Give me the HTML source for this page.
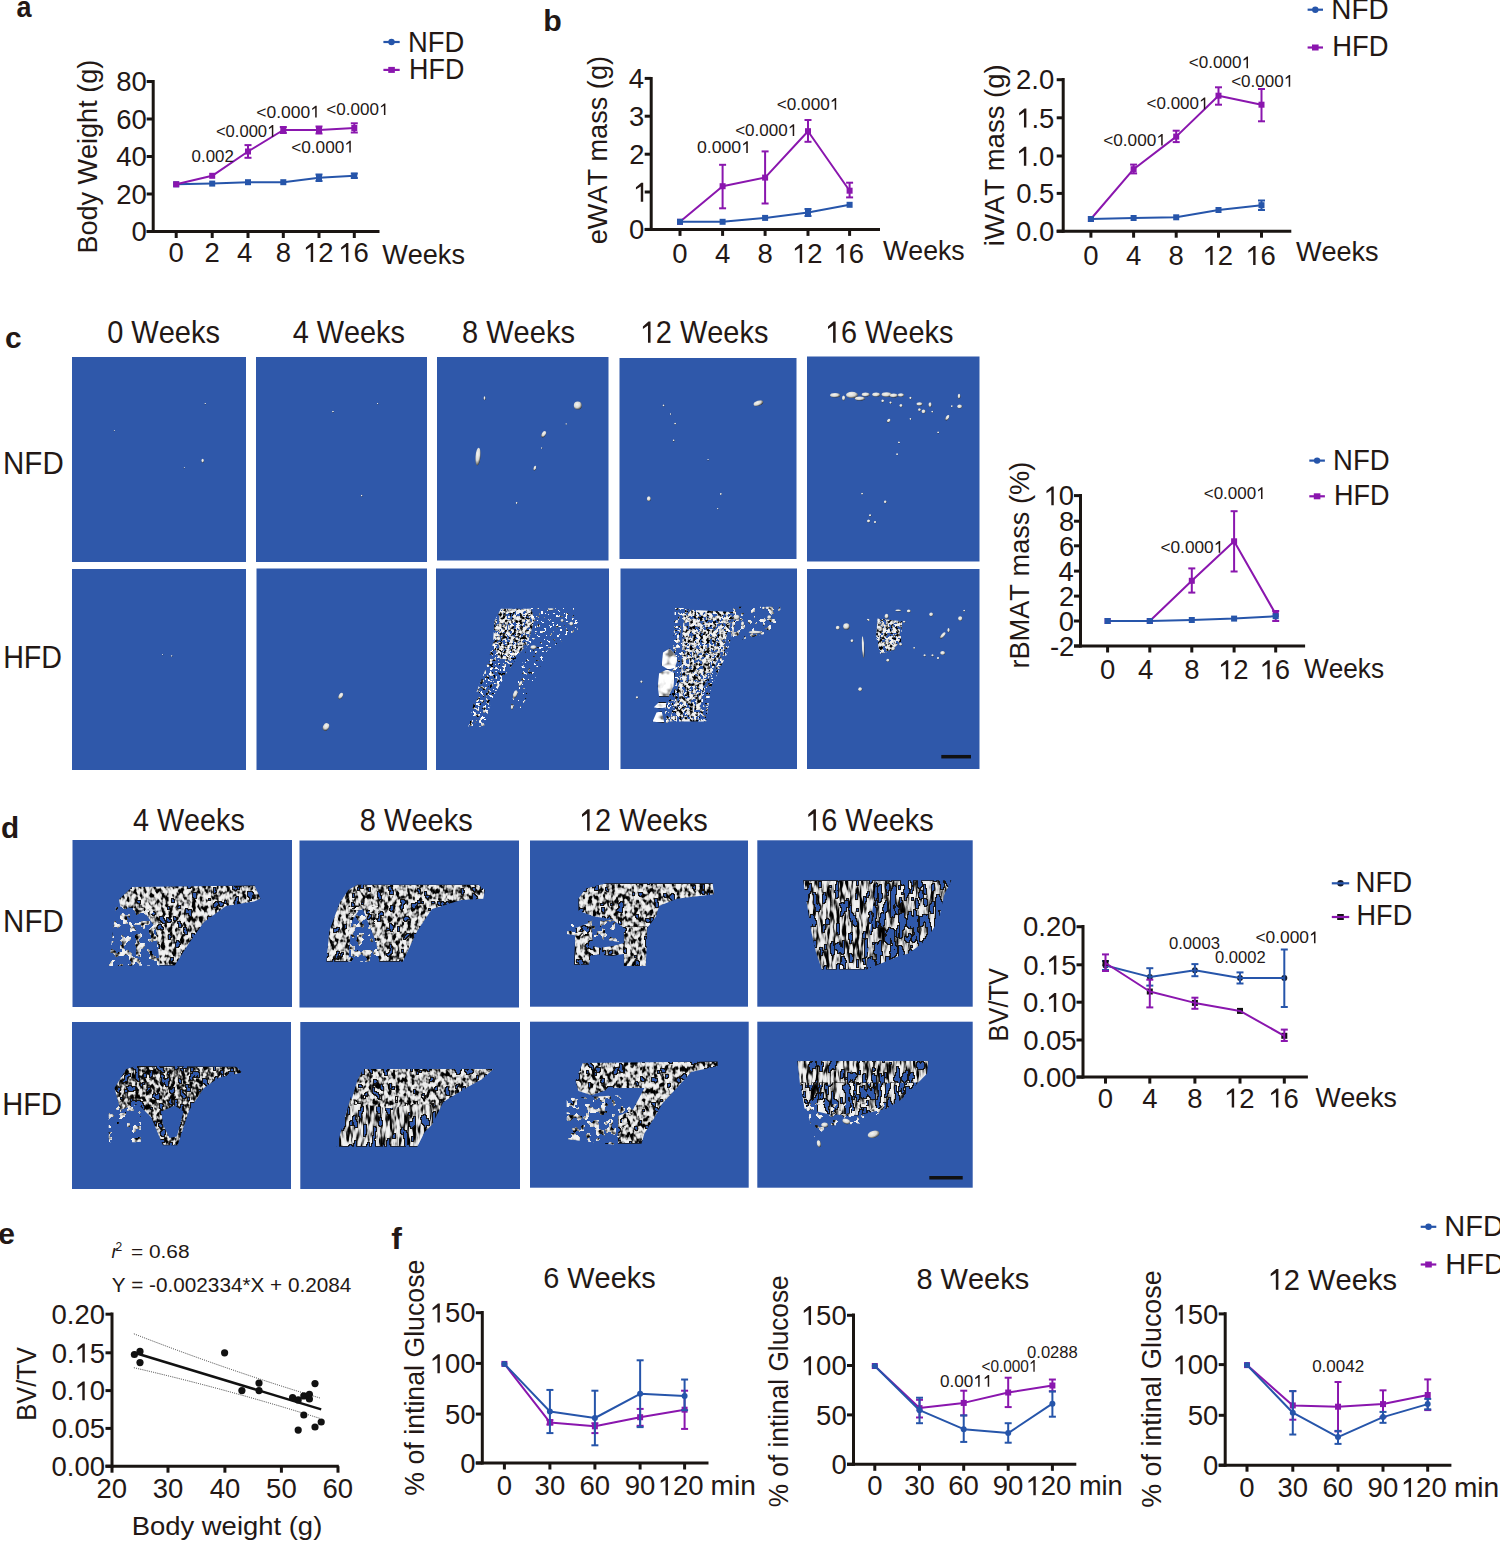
<!DOCTYPE html>
<html><head><meta charset="utf-8"><title>Figure</title><style>
html,body{margin:0;padding:0;background:#fff;overflow:hidden;width:1500px;height:1541px;}
svg{display:block;font-family:"Liberation Sans",sans-serif;font-kerning:none;}
</style></head><body>
<svg width="1500" height="1541" viewBox="0 0 1500 1541">
<rect width="1500" height="1541" fill="#fff"/>
<text transform="translate(16.61,17.40) scale(0.9313,1)" font-size="29.00" font-weight="bold" fill="#231815">a</text>
<line x1="153.20" y1="80.00" x2="153.20" y2="233.00" stroke="#1a1512" stroke-width="3"/>
<line x1="146.70" y1="231.50" x2="379.50" y2="231.50" stroke="#1a1512" stroke-width="3"/>
<line x1="146.70" y1="81.50" x2="153.20" y2="81.50" stroke="#1a1512" stroke-width="3"/>
<line x1="146.70" y1="119.00" x2="153.20" y2="119.00" stroke="#1a1512" stroke-width="3"/>
<line x1="146.70" y1="156.50" x2="153.20" y2="156.50" stroke="#1a1512" stroke-width="3"/>
<line x1="146.70" y1="194.00" x2="153.20" y2="194.00" stroke="#1a1512" stroke-width="3"/>
<line x1="146.70" y1="231.50" x2="153.20" y2="231.50" stroke="#1a1512" stroke-width="3"/>
<line x1="176.20" y1="231.50" x2="176.20" y2="238.00" stroke="#1a1512" stroke-width="3"/>
<line x1="212.20" y1="231.50" x2="212.20" y2="238.00" stroke="#1a1512" stroke-width="3"/>
<line x1="248.00" y1="231.50" x2="248.00" y2="238.00" stroke="#1a1512" stroke-width="3"/>
<line x1="283.30" y1="231.50" x2="283.30" y2="238.00" stroke="#1a1512" stroke-width="3"/>
<line x1="319.00" y1="231.50" x2="319.00" y2="238.00" stroke="#1a1512" stroke-width="3"/>
<line x1="354.30" y1="231.50" x2="354.30" y2="238.00" stroke="#1a1512" stroke-width="3"/>
<text transform="translate(116.29,91.23) scale(1.0000,1)" font-size="27.50" fill="#231815">80</text>
<text transform="translate(116.29,128.74) scale(1.0000,1)" font-size="27.50" fill="#231815">60</text>
<text transform="translate(116.29,166.24) scale(1.0000,1)" font-size="27.50" fill="#231815">40</text>
<text transform="translate(116.29,203.74) scale(1.0000,1)" font-size="27.50" fill="#231815">20</text>
<text transform="translate(131.58,241.24) scale(1.0000,1)" font-size="27.50" fill="#231815">0</text>
<text transform="translate(168.55,262.00) scale(1.0000,1)" font-size="27.50" fill="#231815">0</text>
<text transform="translate(204.55,262.00) scale(1.0000,1)" font-size="27.50" fill="#231815">2</text>
<text transform="translate(236.94,262.00) scale(1.0000,1)" font-size="27.50" fill="#231815">4</text>
<text transform="translate(275.65,262.00) scale(1.0000,1)" font-size="27.50" fill="#231815">8</text>
<g transform="translate(302.90,262.00) scale(1.0000,1)" fill="#231815"><text font-size="27.50"> 2</text><polygon points="10.25,0.00 7.83,0.00 7.83,-15.24 2.99,-12.15 2.99,-14.50 8.33,-18.92 10.25,-18.92"/></g>
<g transform="translate(338.11,262.00) scale(1.0000,1)" fill="#231815"><text font-size="27.50"> 6</text><polygon points="10.25,0.00 7.83,0.00 7.83,-15.24 2.99,-12.15 2.99,-14.50 8.33,-18.92 10.25,-18.92"/></g>
<text transform="translate(382.18,263.60) scale(0.9506,1)" font-size="28.50" fill="#231815">Weeks</text>
<g transform="translate(96.60,253.62) rotate(-90) scale(0.9494,1)" fill="#231815"><text font-size="28.50">Body Weight (g)</text></g>
<circle cx="391.5" cy="42.0" r="3.2" fill="#2655AA"/>
<line x1="383.40" y1="42.00" x2="399.70" y2="42.00" stroke="#2655AA" stroke-width="2.2"/>
<rect x="388.25" y="66.90" width="6.60" height="6.00" fill="#8A16AE" />
<line x1="383.40" y1="69.90" x2="399.70" y2="69.90" stroke="#8A16AE" stroke-width="2.2"/>
<text transform="translate(408.05,52.00) scale(0.9439,1)" font-size="29.00" fill="#231815">NFD</text>
<text transform="translate(409.10,79.40) scale(0.9260,1)" font-size="29.00" fill="#231815">HFD</text>
<polyline points="176.2,184.3 212.2,183.6 248.0,182.2 283.3,182.2 319.0,177.8 354.3,175.8" fill="none" stroke="#2655AA" stroke-width="2" stroke-linejoin="round"/>
<line x1="319.00" y1="174.50" x2="319.00" y2="181.00" stroke="#2655AA" stroke-width="2"/>
<line x1="315.50" y1="174.50" x2="322.50" y2="174.50" stroke="#2655AA" stroke-width="2"/>
<line x1="315.50" y1="181.00" x2="322.50" y2="181.00" stroke="#2655AA" stroke-width="2"/>
<line x1="354.30" y1="173.50" x2="354.30" y2="178.00" stroke="#2655AA" stroke-width="2"/>
<line x1="350.80" y1="173.50" x2="357.80" y2="173.50" stroke="#2655AA" stroke-width="2"/>
<line x1="350.80" y1="178.00" x2="357.80" y2="178.00" stroke="#2655AA" stroke-width="2"/>
<rect x="173.20" y="181.30" width="6.00" height="6.00" fill="#2655AA" />
<rect x="209.20" y="180.60" width="6.00" height="6.00" fill="#2655AA" />
<rect x="245.00" y="179.20" width="6.00" height="6.00" fill="#2655AA" />
<rect x="280.30" y="179.20" width="6.00" height="6.00" fill="#2655AA" />
<rect x="316.00" y="174.80" width="6.00" height="6.00" fill="#2655AA" />
<rect x="351.30" y="172.80" width="6.00" height="6.00" fill="#2655AA" />
<polyline points="176.2,184.3 212.2,175.8 248.0,151.5 283.3,130.0 319.0,130.0 354.3,128.0" fill="none" stroke="#8A16AE" stroke-width="2" stroke-linejoin="round"/>
<line x1="248.00" y1="145.10" x2="248.00" y2="157.80" stroke="#8A16AE" stroke-width="2"/>
<line x1="244.50" y1="145.10" x2="251.50" y2="145.10" stroke="#8A16AE" stroke-width="2"/>
<line x1="244.50" y1="157.80" x2="251.50" y2="157.80" stroke="#8A16AE" stroke-width="2"/>
<line x1="354.30" y1="123.30" x2="354.30" y2="132.50" stroke="#8A16AE" stroke-width="2"/>
<line x1="350.80" y1="123.30" x2="357.80" y2="123.30" stroke="#8A16AE" stroke-width="2"/>
<line x1="350.80" y1="132.50" x2="357.80" y2="132.50" stroke="#8A16AE" stroke-width="2"/>
<line x1="283.30" y1="127.00" x2="283.30" y2="133.00" stroke="#8A16AE" stroke-width="2"/>
<line x1="279.80" y1="127.00" x2="286.80" y2="127.00" stroke="#8A16AE" stroke-width="2"/>
<line x1="279.80" y1="133.00" x2="286.80" y2="133.00" stroke="#8A16AE" stroke-width="2"/>
<line x1="319.00" y1="126.50" x2="319.00" y2="133.50" stroke="#8A16AE" stroke-width="2"/>
<line x1="315.50" y1="126.50" x2="322.50" y2="126.50" stroke="#8A16AE" stroke-width="2"/>
<line x1="315.50" y1="133.50" x2="322.50" y2="133.50" stroke="#8A16AE" stroke-width="2"/>
<rect x="173.20" y="181.30" width="6.00" height="6.00" fill="#8A16AE" />
<rect x="209.20" y="172.80" width="6.00" height="6.00" fill="#8A16AE" />
<rect x="245.00" y="148.50" width="6.00" height="6.00" fill="#8A16AE" />
<rect x="280.30" y="127.00" width="6.00" height="6.00" fill="#8A16AE" />
<rect x="316.00" y="127.00" width="6.00" height="6.00" fill="#8A16AE" />
<rect x="351.30" y="125.00" width="6.00" height="6.00" fill="#8A16AE" />
<text transform="translate(191.54,161.50) scale(0.9946,1)" font-size="17.00" fill="#231815">0.002</text>
<g transform="translate(215.88,136.70) scale(0.9765,1)" fill="#231815"><text font-size="17.00">&lt;0.000 </text><polygon points="58.80,0.00 57.31,0.00 57.31,-9.42 54.32,-7.51 54.32,-8.96 57.62,-11.70 58.80,-11.70"/></g>
<g transform="translate(256.34,117.50) scale(1.0265,1)" fill="#231815"><text font-size="17.00">&lt;0.000 </text><polygon points="58.80,0.00 57.31,0.00 57.31,-9.42 54.32,-7.51 54.32,-8.96 57.62,-11.70 58.80,-11.70"/></g>
<g transform="translate(326.36,115.10) scale(1.0041,1)" fill="#231815"><text font-size="17.00">&lt;0.000 </text><polygon points="58.80,0.00 57.31,0.00 57.31,-9.42 54.32,-7.51 54.32,-8.96 57.62,-11.70 58.80,-11.70"/></g>
<g transform="translate(291.15,152.50) scale(1.0144,1)" fill="#231815"><text font-size="17.00">&lt;0.000 </text><polygon points="58.80,0.00 57.31,0.00 57.31,-9.42 54.32,-7.51 54.32,-8.96 57.62,-11.70 58.80,-11.70"/></g>
<text transform="translate(543.30,30.60) scale(1.0327,1)" font-size="29.40" font-weight="bold" fill="#231815">b</text>
<line x1="651.20" y1="77.00" x2="651.20" y2="230.90" stroke="#1a1512" stroke-width="3"/>
<line x1="644.70" y1="229.40" x2="880.00" y2="229.40" stroke="#1a1512" stroke-width="3"/>
<line x1="644.70" y1="78.40" x2="651.20" y2="78.40" stroke="#1a1512" stroke-width="3"/>
<line x1="644.70" y1="116.20" x2="651.20" y2="116.20" stroke="#1a1512" stroke-width="3"/>
<line x1="644.70" y1="154.20" x2="651.20" y2="154.20" stroke="#1a1512" stroke-width="3"/>
<line x1="644.70" y1="192.00" x2="651.20" y2="192.00" stroke="#1a1512" stroke-width="3"/>
<line x1="644.70" y1="229.40" x2="651.20" y2="229.40" stroke="#1a1512" stroke-width="3"/>
<line x1="680.00" y1="229.40" x2="680.00" y2="235.90" stroke="#1a1512" stroke-width="3"/>
<line x1="722.60" y1="229.40" x2="722.60" y2="235.90" stroke="#1a1512" stroke-width="3"/>
<line x1="765.10" y1="229.40" x2="765.10" y2="235.90" stroke="#1a1512" stroke-width="3"/>
<line x1="808.00" y1="229.40" x2="808.00" y2="235.90" stroke="#1a1512" stroke-width="3"/>
<line x1="849.60" y1="229.40" x2="849.60" y2="235.90" stroke="#1a1512" stroke-width="3"/>
<text transform="translate(628.71,88.14) scale(1.0000,1)" font-size="27.50" fill="#231815">4</text>
<text transform="translate(629.11,125.94) scale(1.0000,1)" font-size="27.50" fill="#231815">3</text>
<text transform="translate(629.29,163.94) scale(1.0000,1)" font-size="27.50" fill="#231815">2</text>
<g transform="translate(632.95,201.74) scale(1.0000,1)" fill="#231815"><text font-size="27.50"> </text><polygon points="10.25,0.00 7.83,0.00 7.83,-15.24 2.99,-12.15 2.99,-14.50 8.33,-18.92 10.25,-18.92"/></g>
<text transform="translate(628.98,239.13) scale(1.0000,1)" font-size="27.50" fill="#231815">0</text>
<text transform="translate(672.35,263.00) scale(1.0000,1)" font-size="27.50" fill="#231815">0</text>
<text transform="translate(715.04,263.00) scale(1.0000,1)" font-size="27.50" fill="#231815">4</text>
<text transform="translate(757.45,263.00) scale(1.0000,1)" font-size="27.50" fill="#231815">8</text>
<g transform="translate(791.90,263.00) scale(1.0000,1)" fill="#231815"><text font-size="27.50"> 2</text><polygon points="10.25,0.00 7.83,0.00 7.83,-15.24 2.99,-12.15 2.99,-14.50 8.33,-18.92 10.25,-18.92"/></g>
<g transform="translate(833.41,263.00) scale(1.0000,1)" fill="#231815"><text font-size="27.50"> 6</text><polygon points="10.25,0.00 7.83,0.00 7.83,-15.24 2.99,-12.15 2.99,-14.50 8.33,-18.92 10.25,-18.92"/></g>
<text transform="translate(883.08,259.50) scale(0.9378,1)" font-size="28.50" fill="#231815">Weeks</text>
<g transform="translate(607.00,244.35) rotate(-90) scale(0.9520,1)" fill="#231815"><text font-size="28.50">eWAT mass (g)</text></g>
<polyline points="680.0,221.8 722.6,186.2 765.1,177.6 808.0,131.2 849.6,190.7" fill="none" stroke="#8A16AE" stroke-width="2" stroke-linejoin="round"/>
<line x1="722.60" y1="164.80" x2="722.60" y2="208.30" stroke="#8A16AE" stroke-width="2"/>
<line x1="719.10" y1="164.80" x2="726.10" y2="164.80" stroke="#8A16AE" stroke-width="2"/>
<line x1="719.10" y1="208.30" x2="726.10" y2="208.30" stroke="#8A16AE" stroke-width="2"/>
<line x1="765.10" y1="151.40" x2="765.10" y2="203.50" stroke="#8A16AE" stroke-width="2"/>
<line x1="761.60" y1="151.40" x2="768.60" y2="151.40" stroke="#8A16AE" stroke-width="2"/>
<line x1="761.60" y1="203.50" x2="768.60" y2="203.50" stroke="#8A16AE" stroke-width="2"/>
<line x1="808.00" y1="120.00" x2="808.00" y2="141.80" stroke="#8A16AE" stroke-width="2"/>
<line x1="804.50" y1="120.00" x2="811.50" y2="120.00" stroke="#8A16AE" stroke-width="2"/>
<line x1="804.50" y1="141.80" x2="811.50" y2="141.80" stroke="#8A16AE" stroke-width="2"/>
<line x1="849.60" y1="182.70" x2="849.60" y2="197.40" stroke="#8A16AE" stroke-width="2"/>
<line x1="846.10" y1="182.70" x2="853.10" y2="182.70" stroke="#8A16AE" stroke-width="2"/>
<line x1="846.10" y1="197.40" x2="853.10" y2="197.40" stroke="#8A16AE" stroke-width="2"/>
<rect x="677.00" y="218.80" width="6.00" height="6.00" fill="#8A16AE" />
<rect x="719.60" y="183.20" width="6.00" height="6.00" fill="#8A16AE" />
<rect x="762.10" y="174.60" width="6.00" height="6.00" fill="#8A16AE" />
<rect x="805.00" y="128.20" width="6.00" height="6.00" fill="#8A16AE" />
<rect x="846.60" y="187.70" width="6.00" height="6.00" fill="#8A16AE" />
<polyline points="680.0,221.8 722.6,221.8 765.1,217.9 808.0,212.5 849.6,204.8" fill="none" stroke="#2655AA" stroke-width="2" stroke-linejoin="round"/>
<line x1="808.00" y1="209.00" x2="808.00" y2="216.00" stroke="#2655AA" stroke-width="2"/>
<line x1="804.50" y1="209.00" x2="811.50" y2="209.00" stroke="#2655AA" stroke-width="2"/>
<line x1="804.50" y1="216.00" x2="811.50" y2="216.00" stroke="#2655AA" stroke-width="2"/>
<rect x="677.00" y="218.80" width="6.00" height="6.00" fill="#2655AA" />
<rect x="719.60" y="218.80" width="6.00" height="6.00" fill="#2655AA" />
<rect x="762.10" y="214.90" width="6.00" height="6.00" fill="#2655AA" />
<rect x="805.00" y="209.50" width="6.00" height="6.00" fill="#2655AA" />
<rect x="846.60" y="201.80" width="6.00" height="6.00" fill="#2655AA" />
<g transform="translate(696.91,153.00) scale(1.0413,1)" fill="#231815"><text font-size="17.00">0.000 </text><polygon points="48.88,0.00 47.38,0.00 47.38,-9.42 44.39,-7.51 44.39,-8.96 47.69,-11.70 48.88,-11.70"/></g>
<g transform="translate(735.16,136.00) scale(1.0041,1)" fill="#231815"><text font-size="17.00">&lt;0.000 </text><polygon points="58.80,0.00 57.31,0.00 57.31,-9.42 54.32,-7.51 54.32,-8.96 57.62,-11.70 58.80,-11.70"/></g>
<g transform="translate(776.75,109.80) scale(1.0110,1)" fill="#231815"><text font-size="17.00">&lt;0.000 </text><polygon points="58.80,0.00 57.31,0.00 57.31,-9.42 54.32,-7.51 54.32,-8.96 57.62,-11.70 58.80,-11.70"/></g>
<line x1="1063.20" y1="78.00" x2="1063.20" y2="232.70" stroke="#1a1512" stroke-width="3"/>
<line x1="1056.70" y1="231.20" x2="1291.30" y2="231.20" stroke="#1a1512" stroke-width="3"/>
<line x1="1056.70" y1="79.70" x2="1063.20" y2="79.70" stroke="#1a1512" stroke-width="3"/>
<line x1="1056.70" y1="117.80" x2="1063.20" y2="117.80" stroke="#1a1512" stroke-width="3"/>
<line x1="1056.70" y1="156.00" x2="1063.20" y2="156.00" stroke="#1a1512" stroke-width="3"/>
<line x1="1056.70" y1="193.40" x2="1063.20" y2="193.40" stroke="#1a1512" stroke-width="3"/>
<line x1="1056.70" y1="231.20" x2="1063.20" y2="231.20" stroke="#1a1512" stroke-width="3"/>
<line x1="1090.90" y1="231.20" x2="1090.90" y2="237.70" stroke="#1a1512" stroke-width="3"/>
<line x1="1133.60" y1="231.20" x2="1133.60" y2="237.70" stroke="#1a1512" stroke-width="3"/>
<line x1="1176.20" y1="231.20" x2="1176.20" y2="237.70" stroke="#1a1512" stroke-width="3"/>
<line x1="1218.50" y1="231.20" x2="1218.50" y2="237.70" stroke="#1a1512" stroke-width="3"/>
<line x1="1261.50" y1="231.20" x2="1261.50" y2="237.70" stroke="#1a1512" stroke-width="3"/>
<text transform="translate(1016.05,89.44) scale(1.0000,1)" font-size="27.50" fill="#231815">2.0</text>
<g transform="translate(1016.13,127.53) scale(1.0000,1)" fill="#231815"><text font-size="27.50"> .5</text><polygon points="10.25,0.00 7.83,0.00 7.83,-15.24 2.99,-12.15 2.99,-14.50 8.33,-18.92 10.25,-18.92"/></g>
<g transform="translate(1016.05,165.74) scale(1.0000,1)" fill="#231815"><text font-size="27.50"> .0</text><polygon points="10.25,0.00 7.83,0.00 7.83,-15.24 2.99,-12.15 2.99,-14.50 8.33,-18.92 10.25,-18.92"/></g>
<text transform="translate(1016.13,203.13) scale(1.0000,1)" font-size="27.50" fill="#231815">0.5</text>
<text transform="translate(1016.05,240.94) scale(1.0000,1)" font-size="27.50" fill="#231815">0.0</text>
<text transform="translate(1083.25,265.00) scale(1.0000,1)" font-size="27.50" fill="#231815">0</text>
<text transform="translate(1126.04,265.00) scale(1.0000,1)" font-size="27.50" fill="#231815">4</text>
<text transform="translate(1168.55,265.00) scale(1.0000,1)" font-size="27.50" fill="#231815">8</text>
<g transform="translate(1202.40,265.00) scale(1.0000,1)" fill="#231815"><text font-size="27.50"> 2</text><polygon points="10.25,0.00 7.83,0.00 7.83,-15.24 2.99,-12.15 2.99,-14.50 8.33,-18.92 10.25,-18.92"/></g>
<g transform="translate(1245.31,265.00) scale(1.0000,1)" fill="#231815"><text font-size="27.50"> 6</text><polygon points="10.25,0.00 7.83,0.00 7.83,-15.24 2.99,-12.15 2.99,-14.50 8.33,-18.92 10.25,-18.92"/></g>
<text transform="translate(1295.88,261.00) scale(0.9494,1)" font-size="28.50" fill="#231815">Weeks</text>
<g transform="translate(1004.00,246.24) rotate(-90) scale(0.9662,1)" fill="#231815"><text font-size="28.50">iWAT mass (g)</text></g>
<circle cx="1315.3" cy="9.7" r="3.2" fill="#2655AA"/>
<line x1="1307.60" y1="9.70" x2="1323.00" y2="9.70" stroke="#2655AA" stroke-width="2.2"/>
<rect x="1312.00" y="44.50" width="6.60" height="6.00" fill="#8A16AE" />
<line x1="1307.60" y1="47.50" x2="1323.00" y2="47.50" stroke="#8A16AE" stroke-width="2.2"/>
<text transform="translate(1331.31,19.10) scale(0.9618,1)" font-size="29.00" fill="#231815">NFD</text>
<text transform="translate(1332.35,56.20) scale(0.9439,1)" font-size="29.00" fill="#231815">HFD</text>
<polyline points="1090.9,219.0 1133.6,169.2 1176.2,136.6 1218.5,95.7 1261.5,104.7" fill="none" stroke="#8A16AE" stroke-width="2" stroke-linejoin="round"/>
<line x1="1133.60" y1="164.60" x2="1133.60" y2="173.40" stroke="#8A16AE" stroke-width="2"/>
<line x1="1130.10" y1="164.60" x2="1137.10" y2="164.60" stroke="#8A16AE" stroke-width="2"/>
<line x1="1130.10" y1="173.40" x2="1137.10" y2="173.40" stroke="#8A16AE" stroke-width="2"/>
<line x1="1176.20" y1="130.70" x2="1176.20" y2="142.10" stroke="#8A16AE" stroke-width="2"/>
<line x1="1172.70" y1="130.70" x2="1179.70" y2="130.70" stroke="#8A16AE" stroke-width="2"/>
<line x1="1172.70" y1="142.10" x2="1179.70" y2="142.10" stroke="#8A16AE" stroke-width="2"/>
<line x1="1218.50" y1="87.30" x2="1218.50" y2="104.70" stroke="#8A16AE" stroke-width="2"/>
<line x1="1215.00" y1="87.30" x2="1222.00" y2="87.30" stroke="#8A16AE" stroke-width="2"/>
<line x1="1215.00" y1="104.70" x2="1222.00" y2="104.70" stroke="#8A16AE" stroke-width="2"/>
<line x1="1261.50" y1="89.00" x2="1261.50" y2="121.30" stroke="#8A16AE" stroke-width="2"/>
<line x1="1258.00" y1="89.00" x2="1265.00" y2="89.00" stroke="#8A16AE" stroke-width="2"/>
<line x1="1258.00" y1="121.30" x2="1265.00" y2="121.30" stroke="#8A16AE" stroke-width="2"/>
<rect x="1087.90" y="216.00" width="6.00" height="6.00" fill="#8A16AE" />
<rect x="1130.60" y="166.20" width="6.00" height="6.00" fill="#8A16AE" />
<rect x="1173.20" y="133.60" width="6.00" height="6.00" fill="#8A16AE" />
<rect x="1215.50" y="92.70" width="6.00" height="6.00" fill="#8A16AE" />
<rect x="1258.50" y="101.70" width="6.00" height="6.00" fill="#8A16AE" />
<polyline points="1090.9,219.0 1133.6,218.0 1176.2,217.3 1218.5,210.0 1261.5,205.2" fill="none" stroke="#2655AA" stroke-width="2" stroke-linejoin="round"/>
<line x1="1261.50" y1="200.50" x2="1261.50" y2="210.00" stroke="#2655AA" stroke-width="2"/>
<line x1="1258.00" y1="200.50" x2="1265.00" y2="200.50" stroke="#2655AA" stroke-width="2"/>
<line x1="1258.00" y1="210.00" x2="1265.00" y2="210.00" stroke="#2655AA" stroke-width="2"/>
<rect x="1087.90" y="216.00" width="6.00" height="6.00" fill="#2655AA" />
<rect x="1130.60" y="215.00" width="6.00" height="6.00" fill="#2655AA" />
<rect x="1173.20" y="214.30" width="6.00" height="6.00" fill="#2655AA" />
<rect x="1215.50" y="207.00" width="6.00" height="6.00" fill="#2655AA" />
<rect x="1258.50" y="202.20" width="6.00" height="6.00" fill="#2655AA" />
<g transform="translate(1103.25,145.60) scale(1.0110,1)" fill="#231815"><text font-size="17.00">&lt;0.000 </text><polygon points="58.80,0.00 57.31,0.00 57.31,-9.42 54.32,-7.51 54.32,-8.96 57.62,-11.70 58.80,-11.70"/></g>
<g transform="translate(1146.56,109.20) scale(0.9989,1)" fill="#231815"><text font-size="17.00">&lt;0.000 </text><polygon points="58.80,0.00 57.31,0.00 57.31,-9.42 54.32,-7.51 54.32,-8.96 57.62,-11.70 58.80,-11.70"/></g>
<g transform="translate(1188.86,68.30) scale(1.0058,1)" fill="#231815"><text font-size="17.00">&lt;0.000 </text><polygon points="58.80,0.00 57.31,0.00 57.31,-9.42 54.32,-7.51 54.32,-8.96 57.62,-11.70 58.80,-11.70"/></g>
<g transform="translate(1231.16,86.70) scale(1.0041,1)" fill="#231815"><text font-size="17.00">&lt;0.000 </text><polygon points="58.80,0.00 57.31,0.00 57.31,-9.42 54.32,-7.51 54.32,-8.96 57.62,-11.70 58.80,-11.70"/></g>
<line x1="1080.50" y1="494.00" x2="1080.50" y2="647.50" stroke="#1a1512" stroke-width="3"/>
<line x1="1074.00" y1="646.00" x2="1305.10" y2="646.00" stroke="#1a1512" stroke-width="3"/>
<line x1="1074.00" y1="495.60" x2="1080.50" y2="495.60" stroke="#1a1512" stroke-width="3"/>
<line x1="1074.00" y1="521.20" x2="1080.50" y2="521.20" stroke="#1a1512" stroke-width="3"/>
<line x1="1074.00" y1="545.80" x2="1080.50" y2="545.80" stroke="#1a1512" stroke-width="3"/>
<line x1="1074.00" y1="571.10" x2="1080.50" y2="571.10" stroke="#1a1512" stroke-width="3"/>
<line x1="1074.00" y1="596.10" x2="1080.50" y2="596.10" stroke="#1a1512" stroke-width="3"/>
<line x1="1074.00" y1="621.00" x2="1080.50" y2="621.00" stroke="#1a1512" stroke-width="3"/>
<line x1="1074.00" y1="646.00" x2="1080.50" y2="646.00" stroke="#1a1512" stroke-width="3"/>
<line x1="1107.60" y1="646.00" x2="1107.60" y2="652.50" stroke="#1a1512" stroke-width="3"/>
<line x1="1149.80" y1="646.00" x2="1149.80" y2="652.50" stroke="#1a1512" stroke-width="3"/>
<line x1="1191.80" y1="646.00" x2="1191.80" y2="652.50" stroke="#1a1512" stroke-width="3"/>
<line x1="1234.10" y1="646.00" x2="1234.10" y2="652.50" stroke="#1a1512" stroke-width="3"/>
<line x1="1275.70" y1="646.00" x2="1275.70" y2="652.50" stroke="#1a1512" stroke-width="3"/>
<g transform="translate(1043.49,505.34) scale(1.0000,1)" fill="#231815"><text font-size="27.50"> 0</text><polygon points="10.25,0.00 7.83,0.00 7.83,-15.24 2.99,-12.15 2.99,-14.50 8.33,-18.92 10.25,-18.92"/></g>
<text transform="translate(1058.90,530.94) scale(1.0000,1)" font-size="27.50" fill="#231815">8</text>
<text transform="translate(1058.91,555.53) scale(1.0000,1)" font-size="27.50" fill="#231815">6</text>
<text transform="translate(1058.51,580.84) scale(1.0000,1)" font-size="27.50" fill="#231815">4</text>
<text transform="translate(1059.09,605.84) scale(1.0000,1)" font-size="27.50" fill="#231815">2</text>
<text transform="translate(1058.78,630.74) scale(1.0000,1)" font-size="27.50" fill="#231815">0</text>
<text transform="translate(1049.93,655.74) scale(1.0000,1)" font-size="27.50" fill="#231815">-2</text>
<text transform="translate(1099.95,679.20) scale(1.0000,1)" font-size="27.50" fill="#231815">0</text>
<text transform="translate(1137.94,679.20) scale(1.0000,1)" font-size="27.50" fill="#231815">4</text>
<text transform="translate(1184.15,679.20) scale(1.0000,1)" font-size="27.50" fill="#231815">8</text>
<g transform="translate(1218.00,679.20) scale(1.0000,1)" fill="#231815"><text font-size="27.50"> 2</text><polygon points="10.25,0.00 7.83,0.00 7.83,-15.24 2.99,-12.15 2.99,-14.50 8.33,-18.92 10.25,-18.92"/></g>
<g transform="translate(1259.51,679.20) scale(1.0000,1)" fill="#231815"><text font-size="27.50"> 6</text><polygon points="10.25,0.00 7.83,0.00 7.83,-15.24 2.99,-12.15 2.99,-14.50 8.33,-18.92 10.25,-18.92"/></g>
<text transform="translate(1303.88,677.50) scale(0.9204,1)" font-size="28.50" fill="#231815">Weeks</text>
<g transform="translate(1029.20,668.61) rotate(-90) scale(0.9543,1)" fill="#231815"><text font-size="28.50">rBMAT mass (%)</text></g>
<circle cx="1317.1" cy="460.6" r="3.2" fill="#2655AA"/>
<line x1="1309.30" y1="460.60" x2="1324.90" y2="460.60" stroke="#2655AA" stroke-width="2.2"/>
<rect x="1313.80" y="493.30" width="6.60" height="6.00" fill="#8A16AE" />
<line x1="1309.30" y1="496.30" x2="1324.90" y2="496.30" stroke="#8A16AE" stroke-width="2.2"/>
<text transform="translate(1333.04,469.60) scale(0.9493,1)" font-size="29.00" fill="#231815">NFD</text>
<text transform="translate(1334.08,504.90) scale(0.9313,1)" font-size="29.00" fill="#231815">HFD</text>
<polyline points="1107.6,621.0 1149.8,621.0 1191.8,580.8 1234.1,541.3 1275.7,614.1" fill="none" stroke="#8A16AE" stroke-width="2" stroke-linejoin="round"/>
<line x1="1191.80" y1="568.40" x2="1191.80" y2="592.60" stroke="#8A16AE" stroke-width="2"/>
<line x1="1188.30" y1="568.40" x2="1195.30" y2="568.40" stroke="#8A16AE" stroke-width="2"/>
<line x1="1188.30" y1="592.60" x2="1195.30" y2="592.60" stroke="#8A16AE" stroke-width="2"/>
<line x1="1234.10" y1="511.20" x2="1234.10" y2="571.50" stroke="#8A16AE" stroke-width="2"/>
<line x1="1230.60" y1="511.20" x2="1237.60" y2="511.20" stroke="#8A16AE" stroke-width="2"/>
<line x1="1230.60" y1="571.50" x2="1237.60" y2="571.50" stroke="#8A16AE" stroke-width="2"/>
<line x1="1275.70" y1="611.00" x2="1275.70" y2="621.00" stroke="#8A16AE" stroke-width="2"/>
<line x1="1272.20" y1="611.00" x2="1279.20" y2="611.00" stroke="#8A16AE" stroke-width="2"/>
<line x1="1272.20" y1="621.00" x2="1279.20" y2="621.00" stroke="#8A16AE" stroke-width="2"/>
<rect x="1104.60" y="618.00" width="6.00" height="6.00" fill="#8A16AE" />
<rect x="1146.80" y="618.00" width="6.00" height="6.00" fill="#8A16AE" />
<rect x="1188.80" y="577.80" width="6.00" height="6.00" fill="#8A16AE" />
<rect x="1231.10" y="538.30" width="6.00" height="6.00" fill="#8A16AE" />
<rect x="1272.70" y="611.10" width="6.00" height="6.00" fill="#8A16AE" />
<polyline points="1107.6,621.0 1149.8,621.0 1191.8,620.0 1234.1,618.6 1275.7,616.2" fill="none" stroke="#2655AA" stroke-width="2" stroke-linejoin="round"/>
<rect x="1104.60" y="618.00" width="6.00" height="6.00" fill="#2655AA" />
<rect x="1146.80" y="618.00" width="6.00" height="6.00" fill="#2655AA" />
<rect x="1188.80" y="617.00" width="6.00" height="6.00" fill="#2655AA" />
<rect x="1231.10" y="615.60" width="6.00" height="6.00" fill="#2655AA" />
<rect x="1272.70" y="613.20" width="6.00" height="6.00" fill="#2655AA" />
<g transform="translate(1160.45,552.80) scale(1.0161,1)" fill="#231815"><text font-size="17.00">&lt;0.000 </text><polygon points="58.80,0.00 57.31,0.00 57.31,-9.42 54.32,-7.51 54.32,-8.96 57.62,-11.70 58.80,-11.70"/></g>
<g transform="translate(1203.76,499.00) scale(0.9989,1)" fill="#231815"><text font-size="17.00">&lt;0.000 </text><polygon points="58.80,0.00 57.31,0.00 57.31,-9.42 54.32,-7.51 54.32,-8.96 57.62,-11.70 58.80,-11.70"/></g>
<line x1="1083.00" y1="925.00" x2="1083.00" y2="1078.60" stroke="#1a1512" stroke-width="3"/>
<line x1="1076.50" y1="1077.10" x2="1307.90" y2="1077.10" stroke="#1a1512" stroke-width="3"/>
<line x1="1076.50" y1="926.70" x2="1083.00" y2="926.70" stroke="#1a1512" stroke-width="3"/>
<line x1="1076.50" y1="964.80" x2="1083.00" y2="964.80" stroke="#1a1512" stroke-width="3"/>
<line x1="1076.50" y1="1002.20" x2="1083.00" y2="1002.20" stroke="#1a1512" stroke-width="3"/>
<line x1="1076.50" y1="1040.00" x2="1083.00" y2="1040.00" stroke="#1a1512" stroke-width="3"/>
<line x1="1076.50" y1="1077.10" x2="1083.00" y2="1077.10" stroke="#1a1512" stroke-width="3"/>
<line x1="1105.50" y1="1077.10" x2="1105.50" y2="1083.60" stroke="#1a1512" stroke-width="3"/>
<line x1="1149.80" y1="1077.10" x2="1149.80" y2="1083.60" stroke="#1a1512" stroke-width="3"/>
<line x1="1194.90" y1="1077.10" x2="1194.90" y2="1083.60" stroke="#1a1512" stroke-width="3"/>
<line x1="1240.00" y1="1077.10" x2="1240.00" y2="1083.60" stroke="#1a1512" stroke-width="3"/>
<line x1="1284.30" y1="1077.10" x2="1284.30" y2="1083.60" stroke="#1a1512" stroke-width="3"/>
<text transform="translate(1023.05,936.44) scale(1.0000,1)" font-size="27.50" fill="#231815">0.20</text>
<g transform="translate(1023.13,974.53) scale(1.0000,1)" fill="#231815"><text font-size="27.50">0. 5</text><polygon points="33.18,0.00 30.76,0.00 30.76,-15.24 25.93,-12.15 25.93,-14.50 31.26,-18.92 33.18,-18.92"/></g>
<g transform="translate(1023.05,1011.94) scale(1.0000,1)" fill="#231815"><text font-size="27.50">0. 0</text><polygon points="33.18,0.00 30.76,0.00 30.76,-15.24 25.93,-12.15 25.93,-14.50 31.26,-18.92 33.18,-18.92"/></g>
<text transform="translate(1023.13,1049.73) scale(1.0000,1)" font-size="27.50" fill="#231815">0.05</text>
<text transform="translate(1023.05,1086.83) scale(1.0000,1)" font-size="27.50" fill="#231815">0.00</text>
<text transform="translate(1097.85,1107.50) scale(1.0000,1)" font-size="27.50" fill="#231815">0</text>
<text transform="translate(1142.24,1107.50) scale(1.0000,1)" font-size="27.50" fill="#231815">4</text>
<text transform="translate(1187.25,1107.50) scale(1.0000,1)" font-size="27.50" fill="#231815">8</text>
<g transform="translate(1223.90,1107.50) scale(1.0000,1)" fill="#231815"><text font-size="27.50"> 2</text><polygon points="10.25,0.00 7.83,0.00 7.83,-15.24 2.99,-12.15 2.99,-14.50 8.33,-18.92 10.25,-18.92"/></g>
<g transform="translate(1268.11,1107.50) scale(1.0000,1)" fill="#231815"><text font-size="27.50"> 6</text><polygon points="10.25,0.00 7.83,0.00 7.83,-15.24 2.99,-12.15 2.99,-14.50 8.33,-18.92 10.25,-18.92"/></g>
<text transform="translate(1315.38,1107.00) scale(0.9355,1)" font-size="28.50" fill="#231815">Weeks</text>
<g transform="translate(1007.70,1041.38) rotate(-90) scale(0.8900,1)" fill="#231815"><text font-size="28.50">BV/TV</text></g>
<circle cx="1340.5" cy="883.3" r="3.2" fill="#151a2a"/>
<line x1="1331.80" y1="883.30" x2="1349.20" y2="883.30" stroke="#2655AA" stroke-width="2.2"/>
<rect x="1337.20" y="914.00" width="6.60" height="6.00" fill="#111" />
<line x1="1331.80" y1="917.00" x2="1349.20" y2="917.00" stroke="#8A16AE" stroke-width="2.2"/>
<text transform="translate(1355.54,892.00) scale(0.9510,1)" font-size="29.00" fill="#231815">NFD</text>
<text transform="translate(1356.58,925.30) scale(0.9331,1)" font-size="29.00" fill="#231815">HFD</text>
<circle cx="1105.5" cy="965.5" r="3.0" fill="#151a2a"/>
<circle cx="1149.8" cy="976.9" r="3.0" fill="#151a2a"/>
<circle cx="1194.9" cy="970.3" r="3.0" fill="#151a2a"/>
<circle cx="1240.0" cy="978.0" r="3.0" fill="#151a2a"/>
<circle cx="1284.3" cy="978.0" r="3.0" fill="#151a2a"/>
<polyline points="1105.5,965.5 1149.8,976.9 1194.9,970.3 1240.0,978.0 1284.3,978.0" fill="none" stroke="#2655AA" stroke-width="2" stroke-linejoin="round"/>
<line x1="1105.50" y1="961.00" x2="1105.50" y2="970.00" stroke="#2655AA" stroke-width="2"/>
<line x1="1102.00" y1="961.00" x2="1109.00" y2="961.00" stroke="#2655AA" stroke-width="2"/>
<line x1="1102.00" y1="970.00" x2="1109.00" y2="970.00" stroke="#2655AA" stroke-width="2"/>
<line x1="1149.80" y1="968.20" x2="1149.80" y2="985.60" stroke="#2655AA" stroke-width="2"/>
<line x1="1146.30" y1="968.20" x2="1153.30" y2="968.20" stroke="#2655AA" stroke-width="2"/>
<line x1="1146.30" y1="985.60" x2="1153.30" y2="985.60" stroke="#2655AA" stroke-width="2"/>
<line x1="1194.90" y1="964.10" x2="1194.90" y2="976.20" stroke="#2655AA" stroke-width="2"/>
<line x1="1191.40" y1="964.10" x2="1198.40" y2="964.10" stroke="#2655AA" stroke-width="2"/>
<line x1="1191.40" y1="976.20" x2="1198.40" y2="976.20" stroke="#2655AA" stroke-width="2"/>
<line x1="1240.00" y1="972.40" x2="1240.00" y2="983.50" stroke="#2655AA" stroke-width="2"/>
<line x1="1236.50" y1="972.40" x2="1243.50" y2="972.40" stroke="#2655AA" stroke-width="2"/>
<line x1="1236.50" y1="983.50" x2="1243.50" y2="983.50" stroke="#2655AA" stroke-width="2"/>
<line x1="1284.30" y1="949.50" x2="1284.30" y2="1007.00" stroke="#2655AA" stroke-width="2"/>
<line x1="1280.80" y1="949.50" x2="1287.80" y2="949.50" stroke="#2655AA" stroke-width="2"/>
<line x1="1280.80" y1="1007.00" x2="1287.80" y2="1007.00" stroke="#2655AA" stroke-width="2"/>
<rect x="1102.50" y="960.00" width="6.00" height="6.00" fill="#111" />
<rect x="1146.80" y="988.50" width="6.00" height="6.00" fill="#111" />
<rect x="1191.90" y="999.90" width="6.00" height="6.00" fill="#111" />
<rect x="1237.00" y="1007.90" width="6.00" height="6.00" fill="#111" />
<rect x="1281.30" y="1032.80" width="6.00" height="6.00" fill="#111" />
<polyline points="1105.5,963.0 1149.8,991.5 1194.9,1002.9 1240.0,1010.9 1284.3,1035.8" fill="none" stroke="#8A16AE" stroke-width="2" stroke-linejoin="round"/>
<line x1="1105.50" y1="954.40" x2="1105.50" y2="971.00" stroke="#8A16AE" stroke-width="2"/>
<line x1="1102.00" y1="954.40" x2="1109.00" y2="954.40" stroke="#8A16AE" stroke-width="2"/>
<line x1="1102.00" y1="971.00" x2="1109.00" y2="971.00" stroke="#8A16AE" stroke-width="2"/>
<line x1="1149.80" y1="979.70" x2="1149.80" y2="1007.40" stroke="#8A16AE" stroke-width="2"/>
<line x1="1146.30" y1="979.70" x2="1153.30" y2="979.70" stroke="#8A16AE" stroke-width="2"/>
<line x1="1146.30" y1="1007.40" x2="1153.30" y2="1007.40" stroke="#8A16AE" stroke-width="2"/>
<line x1="1194.90" y1="997.70" x2="1194.90" y2="1008.80" stroke="#8A16AE" stroke-width="2"/>
<line x1="1191.40" y1="997.70" x2="1198.40" y2="997.70" stroke="#8A16AE" stroke-width="2"/>
<line x1="1191.40" y1="1008.80" x2="1198.40" y2="1008.80" stroke="#8A16AE" stroke-width="2"/>
<line x1="1284.30" y1="1029.60" x2="1284.30" y2="1041.00" stroke="#8A16AE" stroke-width="2"/>
<line x1="1280.80" y1="1029.60" x2="1287.80" y2="1029.60" stroke="#8A16AE" stroke-width="2"/>
<line x1="1280.80" y1="1041.00" x2="1287.80" y2="1041.00" stroke="#8A16AE" stroke-width="2"/>
<text transform="translate(1168.95,949.20) scale(0.9805,1)" font-size="17.00" fill="#231815">0.0003</text>
<text transform="translate(1215.05,963.00) scale(0.9747,1)" font-size="17.00" fill="#231815">0.0002</text>
<g transform="translate(1255.44,943.30) scale(1.0213,1)" fill="#231815"><text font-size="17.00">&lt;0.000 </text><polygon points="58.80,0.00 57.31,0.00 57.31,-9.42 54.32,-7.51 54.32,-8.96 57.62,-11.70 58.80,-11.70"/></g>
<text transform="translate(-1.67,1244.20) scale(1.0354,1)" font-size="29.00" font-weight="bold" fill="#231815">e</text>
<line x1="112.00" y1="1312.50" x2="112.00" y2="1467.70" stroke="#1a1512" stroke-width="3"/>
<line x1="105.50" y1="1466.20" x2="338.80" y2="1466.20" stroke="#1a1512" stroke-width="3"/>
<line x1="105.50" y1="1314.20" x2="112.00" y2="1314.20" stroke="#1a1512" stroke-width="3"/>
<line x1="105.50" y1="1352.80" x2="112.00" y2="1352.80" stroke="#1a1512" stroke-width="3"/>
<line x1="105.50" y1="1390.60" x2="112.00" y2="1390.60" stroke="#1a1512" stroke-width="3"/>
<line x1="105.50" y1="1428.40" x2="112.00" y2="1428.40" stroke="#1a1512" stroke-width="3"/>
<line x1="105.50" y1="1466.20" x2="112.00" y2="1466.20" stroke="#1a1512" stroke-width="3"/>
<line x1="112.00" y1="1466.20" x2="112.00" y2="1472.70" stroke="#1a1512" stroke-width="3"/>
<line x1="168.00" y1="1466.20" x2="168.00" y2="1472.70" stroke="#1a1512" stroke-width="3"/>
<line x1="224.90" y1="1466.20" x2="224.90" y2="1472.70" stroke="#1a1512" stroke-width="3"/>
<line x1="281.40" y1="1466.20" x2="281.40" y2="1472.70" stroke="#1a1512" stroke-width="3"/>
<line x1="338.00" y1="1466.20" x2="338.00" y2="1472.70" stroke="#1a1512" stroke-width="3"/>
<text transform="translate(51.55,1323.93) scale(1.0000,1)" font-size="27.50" fill="#231815">0.20</text>
<g transform="translate(51.63,1362.53) scale(1.0000,1)" fill="#231815"><text font-size="27.50">0. 5</text><polygon points="33.18,0.00 30.76,0.00 30.76,-15.24 25.93,-12.15 25.93,-14.50 31.26,-18.92 33.18,-18.92"/></g>
<g transform="translate(51.55,1400.33) scale(1.0000,1)" fill="#231815"><text font-size="27.50">0. 0</text><polygon points="33.18,0.00 30.76,0.00 30.76,-15.24 25.93,-12.15 25.93,-14.50 31.26,-18.92 33.18,-18.92"/></g>
<text transform="translate(51.63,1438.13) scale(1.0000,1)" font-size="27.50" fill="#231815">0.05</text>
<text transform="translate(51.55,1475.93) scale(1.0000,1)" font-size="27.50" fill="#231815">0.00</text>
<text transform="translate(96.55,1497.50) scale(1.0000,1)" font-size="27.50" fill="#231815">20</text>
<text transform="translate(152.72,1497.50) scale(1.0000,1)" font-size="27.50" fill="#231815">30</text>
<text transform="translate(209.83,1497.50) scale(1.0000,1)" font-size="27.50" fill="#231815">40</text>
<text transform="translate(266.09,1497.50) scale(1.0000,1)" font-size="27.50" fill="#231815">50</text>
<text transform="translate(322.54,1497.50) scale(1.0000,1)" font-size="27.50" fill="#231815">60</text>
<g transform="translate(35.80,1420.69) rotate(-90) scale(0.8937,1)" fill="#231815"><text font-size="28.50">BV/TV</text></g>
<text transform="translate(131.65,1534.50) scale(1.0355,1)" font-size="26.50" fill="#231815">Body weight (g)</text>
<text x="111.5" y="1258.4" font-size="18.5" font-style="italic" fill="#231815">r</text>
<text transform="translate(115.39,1250.60) scale(0.9658,1)" font-size="12.50" fill="#231815">2</text>
<text transform="translate(130.98,1258.40) scale(1.1285,1)" font-size="18.50" fill="#231815">= 0.68</text>
<text transform="translate(111.64,1292.20) scale(1.0375,1)" font-size="20.00" fill="#231815">Y = -0.002334*X + 0.2084</text>
<line x1="134.42" y1="1352.82" x2="321.20" y2="1409.38" stroke="#111" stroke-width="2.5"/>
<path d="M133.9,1333.8 Q227.4,1370.2 320.6,1398.2" fill="none" stroke="#333" stroke-width="1" stroke-dasharray="1 1.2"/>
<path d="M133.9,1367.7 Q227.4,1389.2 320.6,1418.6" fill="none" stroke="#333" stroke-width="1" stroke-dasharray="1 1.2"/>
<circle cx="134.4" cy="1354.5" r="3.6" fill="#111"/>
<circle cx="140.0" cy="1351.4" r="3.6" fill="#111"/>
<circle cx="140.0" cy="1362.6" r="3.6" fill="#111"/>
<circle cx="224.6" cy="1352.8" r="3.6" fill="#111"/>
<circle cx="241.9" cy="1390.6" r="3.6" fill="#111"/>
<circle cx="259.0" cy="1383.1" r="3.6" fill="#111"/>
<circle cx="259.0" cy="1390.6" r="3.6" fill="#111"/>
<circle cx="292.6" cy="1397.6" r="3.6" fill="#111"/>
<circle cx="298.2" cy="1399.9" r="3.6" fill="#111"/>
<circle cx="298.2" cy="1430.1" r="3.6" fill="#111"/>
<circle cx="303.8" cy="1395.9" r="3.6" fill="#111"/>
<circle cx="303.8" cy="1415.0" r="3.6" fill="#111"/>
<circle cx="309.4" cy="1394.3" r="3.6" fill="#111"/>
<circle cx="309.4" cy="1399.0" r="3.6" fill="#111"/>
<circle cx="315.0" cy="1383.6" r="3.6" fill="#111"/>
<circle cx="315.0" cy="1427.0" r="3.6" fill="#111"/>
<circle cx="321.2" cy="1422.0" r="3.6" fill="#111"/>
<text transform="translate(391.25,1248.60) scale(1.0877,1)" font-size="29.50" font-weight="bold" fill="#231815">f</text>
<line x1="482.30" y1="1311.00" x2="482.30" y2="1464.50" stroke="#1a1512" stroke-width="3"/>
<line x1="475.80" y1="1463.00" x2="708.50" y2="1463.00" stroke="#1a1512" stroke-width="3"/>
<line x1="475.80" y1="1312.70" x2="482.30" y2="1312.70" stroke="#1a1512" stroke-width="3"/>
<line x1="475.80" y1="1363.40" x2="482.30" y2="1363.40" stroke="#1a1512" stroke-width="3"/>
<line x1="475.80" y1="1414.10" x2="482.30" y2="1414.10" stroke="#1a1512" stroke-width="3"/>
<line x1="475.80" y1="1463.00" x2="482.30" y2="1463.00" stroke="#1a1512" stroke-width="3"/>
<line x1="504.40" y1="1463.00" x2="504.40" y2="1469.50" stroke="#1a1512" stroke-width="3"/>
<line x1="549.90" y1="1463.00" x2="549.90" y2="1469.50" stroke="#1a1512" stroke-width="3"/>
<line x1="594.90" y1="1463.00" x2="594.90" y2="1469.50" stroke="#1a1512" stroke-width="3"/>
<line x1="640.10" y1="1463.00" x2="640.10" y2="1469.50" stroke="#1a1512" stroke-width="3"/>
<line x1="684.60" y1="1463.00" x2="684.60" y2="1469.50" stroke="#1a1512" stroke-width="3"/>
<g transform="translate(429.59,1322.43) scale(1.0000,1)" fill="#231815"><text font-size="27.50"> 50</text><polygon points="10.25,0.00 7.83,0.00 7.83,-15.24 2.99,-12.15 2.99,-14.50 8.33,-18.92 10.25,-18.92"/></g>
<g transform="translate(429.59,1373.13) scale(1.0000,1)" fill="#231815"><text font-size="27.50"> 00</text><polygon points="10.25,0.00 7.83,0.00 7.83,-15.24 2.99,-12.15 2.99,-14.50 8.33,-18.92 10.25,-18.92"/></g>
<text transform="translate(444.89,1423.83) scale(1.0000,1)" font-size="27.50" fill="#231815">50</text>
<text transform="translate(460.18,1472.73) scale(1.0000,1)" font-size="27.50" fill="#231815">0</text>
<text transform="translate(496.75,1495.20) scale(1.0000,1)" font-size="27.50" fill="#231815">0</text>
<text transform="translate(534.62,1495.20) scale(1.0000,1)" font-size="27.50" fill="#231815">30</text>
<text transform="translate(579.44,1495.20) scale(1.0000,1)" font-size="27.50" fill="#231815">60</text>
<text transform="translate(624.70,1495.20) scale(1.0000,1)" font-size="27.50" fill="#231815">90</text>
<g transform="translate(657.70,1495.20) scale(1.0000,1)" fill="#231815"><text font-size="27.50"> 20</text><polygon points="10.25,0.00 7.83,0.00 7.83,-15.24 2.99,-12.15 2.99,-14.50 8.33,-18.92 10.25,-18.92"/></g>
<text transform="translate(710.53,1495.20) scale(1.0221,1)" font-size="27.50" fill="#231815">min</text>
<text transform="translate(543.23,1287.70) scale(0.9577,1)" font-size="30.20" fill="#231815">6 Weeks</text>
<g transform="translate(423.80,1495.65) rotate(-90) scale(0.9375,1)" fill="#231815"><text font-size="28.50">% of intinal Glucose</text></g>
<polyline points="504.4,1363.9 549.9,1422.4 594.9,1426.3 640.1,1417.2 684.6,1409.7" fill="none" stroke="#8A16AE" stroke-width="2" stroke-linejoin="round"/>
<line x1="549.91" y1="1420.09" x2="549.91" y2="1424.51" stroke="#8A16AE" stroke-width="2"/>
<line x1="546.41" y1="1420.09" x2="553.41" y2="1420.09" stroke="#8A16AE" stroke-width="2"/>
<line x1="546.41" y1="1424.51" x2="553.41" y2="1424.51" stroke="#8A16AE" stroke-width="2"/>
<line x1="594.89" y1="1423.21" x2="594.89" y2="1433.09" stroke="#8A16AE" stroke-width="2"/>
<line x1="591.39" y1="1423.21" x2="598.39" y2="1423.21" stroke="#8A16AE" stroke-width="2"/>
<line x1="591.39" y1="1433.09" x2="598.39" y2="1433.09" stroke="#8A16AE" stroke-width="2"/>
<line x1="640.13" y1="1408.91" x2="640.13" y2="1425.81" stroke="#8A16AE" stroke-width="2"/>
<line x1="636.63" y1="1408.91" x2="643.63" y2="1408.91" stroke="#8A16AE" stroke-width="2"/>
<line x1="636.63" y1="1425.81" x2="643.63" y2="1425.81" stroke="#8A16AE" stroke-width="2"/>
<line x1="684.59" y1="1390.71" x2="684.59" y2="1428.93" stroke="#8A16AE" stroke-width="2"/>
<line x1="681.09" y1="1390.71" x2="688.09" y2="1390.71" stroke="#8A16AE" stroke-width="2"/>
<line x1="681.09" y1="1428.93" x2="688.09" y2="1428.93" stroke="#8A16AE" stroke-width="2"/>
<rect x="501.40" y="1360.93" width="6.00" height="6.00" fill="#8A16AE" />
<rect x="546.91" y="1419.43" width="6.00" height="6.00" fill="#8A16AE" />
<rect x="591.89" y="1423.33" width="6.00" height="6.00" fill="#8A16AE" />
<rect x="637.13" y="1414.23" width="6.00" height="6.00" fill="#8A16AE" />
<rect x="681.59" y="1406.69" width="6.00" height="6.00" fill="#8A16AE" />
<polyline points="504.4,1363.9 549.9,1411.5 594.9,1418.0 640.1,1393.8 684.6,1395.9" fill="none" stroke="#2655AA" stroke-width="2" stroke-linejoin="round"/>
<line x1="549.91" y1="1389.93" x2="549.91" y2="1433.09" stroke="#2655AA" stroke-width="2"/>
<line x1="546.41" y1="1389.93" x2="553.41" y2="1389.93" stroke="#2655AA" stroke-width="2"/>
<line x1="546.41" y1="1433.09" x2="553.41" y2="1433.09" stroke="#2655AA" stroke-width="2"/>
<line x1="594.89" y1="1390.71" x2="594.89" y2="1445.31" stroke="#2655AA" stroke-width="2"/>
<line x1="591.39" y1="1390.71" x2="598.39" y2="1390.71" stroke="#2655AA" stroke-width="2"/>
<line x1="591.39" y1="1445.31" x2="598.39" y2="1445.31" stroke="#2655AA" stroke-width="2"/>
<line x1="640.13" y1="1360.29" x2="640.13" y2="1427.11" stroke="#2655AA" stroke-width="2"/>
<line x1="636.63" y1="1360.29" x2="643.63" y2="1360.29" stroke="#2655AA" stroke-width="2"/>
<line x1="636.63" y1="1427.11" x2="643.63" y2="1427.11" stroke="#2655AA" stroke-width="2"/>
<line x1="684.59" y1="1379.53" x2="684.59" y2="1410.21" stroke="#2655AA" stroke-width="2"/>
<line x1="681.09" y1="1379.53" x2="688.09" y2="1379.53" stroke="#2655AA" stroke-width="2"/>
<line x1="681.09" y1="1410.21" x2="688.09" y2="1410.21" stroke="#2655AA" stroke-width="2"/>
<circle cx="504.4" cy="1363.9" r="3.0" fill="#2655AA"/>
<circle cx="549.9" cy="1411.5" r="3.0" fill="#2655AA"/>
<circle cx="594.9" cy="1418.0" r="3.0" fill="#2655AA"/>
<circle cx="640.1" cy="1393.8" r="3.0" fill="#2655AA"/>
<circle cx="684.6" cy="1395.9" r="3.0" fill="#2655AA"/>
<line x1="853.50" y1="1313.50" x2="853.50" y2="1465.80" stroke="#1a1512" stroke-width="3"/>
<line x1="847.00" y1="1464.30" x2="1076.30" y2="1464.30" stroke="#1a1512" stroke-width="3"/>
<line x1="847.00" y1="1315.30" x2="853.50" y2="1315.30" stroke="#1a1512" stroke-width="3"/>
<line x1="847.00" y1="1365.50" x2="853.50" y2="1365.50" stroke="#1a1512" stroke-width="3"/>
<line x1="847.00" y1="1414.90" x2="853.50" y2="1414.90" stroke="#1a1512" stroke-width="3"/>
<line x1="847.00" y1="1464.30" x2="853.50" y2="1464.30" stroke="#1a1512" stroke-width="3"/>
<line x1="874.80" y1="1464.30" x2="874.80" y2="1470.80" stroke="#1a1512" stroke-width="3"/>
<line x1="919.50" y1="1464.30" x2="919.50" y2="1470.80" stroke="#1a1512" stroke-width="3"/>
<line x1="963.70" y1="1464.30" x2="963.70" y2="1470.80" stroke="#1a1512" stroke-width="3"/>
<line x1="1008.20" y1="1464.30" x2="1008.20" y2="1470.80" stroke="#1a1512" stroke-width="3"/>
<line x1="1052.40" y1="1464.30" x2="1052.40" y2="1470.80" stroke="#1a1512" stroke-width="3"/>
<g transform="translate(800.79,1325.03) scale(1.0000,1)" fill="#231815"><text font-size="27.50"> 50</text><polygon points="10.25,0.00 7.83,0.00 7.83,-15.24 2.99,-12.15 2.99,-14.50 8.33,-18.92 10.25,-18.92"/></g>
<g transform="translate(800.79,1375.23) scale(1.0000,1)" fill="#231815"><text font-size="27.50"> 00</text><polygon points="10.25,0.00 7.83,0.00 7.83,-15.24 2.99,-12.15 2.99,-14.50 8.33,-18.92 10.25,-18.92"/></g>
<text transform="translate(816.09,1424.63) scale(1.0000,1)" font-size="27.50" fill="#231815">50</text>
<text transform="translate(831.38,1474.03) scale(1.0000,1)" font-size="27.50" fill="#231815">0</text>
<text transform="translate(867.15,1495.20) scale(1.0000,1)" font-size="27.50" fill="#231815">0</text>
<text transform="translate(904.22,1495.20) scale(1.0000,1)" font-size="27.50" fill="#231815">30</text>
<text transform="translate(948.24,1495.20) scale(1.0000,1)" font-size="27.50" fill="#231815">60</text>
<text transform="translate(992.80,1495.20) scale(1.0000,1)" font-size="27.50" fill="#231815">90</text>
<g transform="translate(1025.50,1495.20) scale(1.0000,1)" fill="#231815"><text font-size="27.50"> 20</text><polygon points="10.25,0.00 7.83,0.00 7.83,-15.24 2.99,-12.15 2.99,-14.50 8.33,-18.92 10.25,-18.92"/></g>
<text transform="translate(1078.89,1495.20) scale(0.9902,1)" font-size="27.50" fill="#231815">min</text>
<text transform="translate(916.44,1289.00) scale(0.9602,1)" font-size="30.20" fill="#231815">8 Weeks</text>
<g transform="translate(787.70,1507.34) rotate(-90) scale(0.9219,1)" fill="#231815"><text font-size="28.50">% of intinal Glucose</text></g>
<polyline points="874.8,1366.0 919.5,1408.1 963.7,1402.9 1008.2,1392.5 1052.4,1385.5" fill="none" stroke="#8A16AE" stroke-width="2" stroke-linejoin="round"/>
<line x1="919.53" y1="1399.81" x2="919.53" y2="1417.49" stroke="#8A16AE" stroke-width="2"/>
<line x1="916.03" y1="1399.81" x2="923.03" y2="1399.81" stroke="#8A16AE" stroke-width="2"/>
<line x1="916.03" y1="1417.49" x2="923.03" y2="1417.49" stroke="#8A16AE" stroke-width="2"/>
<line x1="963.73" y1="1390.71" x2="963.73" y2="1415.41" stroke="#8A16AE" stroke-width="2"/>
<line x1="960.23" y1="1390.71" x2="967.23" y2="1390.71" stroke="#8A16AE" stroke-width="2"/>
<line x1="960.23" y1="1415.41" x2="967.23" y2="1415.41" stroke="#8A16AE" stroke-width="2"/>
<line x1="1008.19" y1="1377.71" x2="1008.19" y2="1407.09" stroke="#8A16AE" stroke-width="2"/>
<line x1="1004.69" y1="1377.71" x2="1011.69" y2="1377.71" stroke="#8A16AE" stroke-width="2"/>
<line x1="1004.69" y1="1407.09" x2="1011.69" y2="1407.09" stroke="#8A16AE" stroke-width="2"/>
<line x1="1052.39" y1="1379.53" x2="1052.39" y2="1391.23" stroke="#8A16AE" stroke-width="2"/>
<line x1="1048.89" y1="1379.53" x2="1055.89" y2="1379.53" stroke="#8A16AE" stroke-width="2"/>
<line x1="1048.89" y1="1391.23" x2="1055.89" y2="1391.23" stroke="#8A16AE" stroke-width="2"/>
<rect x="871.80" y="1363.01" width="6.00" height="6.00" fill="#8A16AE" />
<rect x="916.53" y="1405.13" width="6.00" height="6.00" fill="#8A16AE" />
<rect x="960.73" y="1399.93" width="6.00" height="6.00" fill="#8A16AE" />
<rect x="1005.19" y="1389.53" width="6.00" height="6.00" fill="#8A16AE" />
<rect x="1049.39" y="1382.51" width="6.00" height="6.00" fill="#8A16AE" />
<polyline points="874.8,1366.0 919.5,1410.2 963.7,1429.2 1008.2,1433.1 1052.4,1403.7" fill="none" stroke="#2655AA" stroke-width="2" stroke-linejoin="round"/>
<line x1="919.53" y1="1397.73" x2="919.53" y2="1423.21" stroke="#2655AA" stroke-width="2"/>
<line x1="916.03" y1="1397.73" x2="923.03" y2="1397.73" stroke="#2655AA" stroke-width="2"/>
<line x1="916.03" y1="1423.21" x2="923.03" y2="1423.21" stroke="#2655AA" stroke-width="2"/>
<line x1="963.73" y1="1415.41" x2="963.73" y2="1441.93" stroke="#2655AA" stroke-width="2"/>
<line x1="960.23" y1="1415.41" x2="967.23" y2="1415.41" stroke="#2655AA" stroke-width="2"/>
<line x1="960.23" y1="1441.93" x2="967.23" y2="1441.93" stroke="#2655AA" stroke-width="2"/>
<line x1="1008.19" y1="1423.21" x2="1008.19" y2="1442.71" stroke="#2655AA" stroke-width="2"/>
<line x1="1004.69" y1="1423.21" x2="1011.69" y2="1423.21" stroke="#2655AA" stroke-width="2"/>
<line x1="1004.69" y1="1442.71" x2="1011.69" y2="1442.71" stroke="#2655AA" stroke-width="2"/>
<line x1="1052.39" y1="1391.49" x2="1052.39" y2="1416.71" stroke="#2655AA" stroke-width="2"/>
<line x1="1048.89" y1="1391.49" x2="1055.89" y2="1391.49" stroke="#2655AA" stroke-width="2"/>
<line x1="1048.89" y1="1416.71" x2="1055.89" y2="1416.71" stroke="#2655AA" stroke-width="2"/>
<circle cx="874.8" cy="1366.0" r="3.0" fill="#2655AA"/>
<circle cx="919.5" cy="1410.2" r="3.0" fill="#2655AA"/>
<circle cx="963.7" cy="1429.2" r="3.0" fill="#2655AA"/>
<circle cx="1008.2" cy="1433.1" r="3.0" fill="#2655AA"/>
<circle cx="1052.4" cy="1403.7" r="3.0" fill="#2655AA"/>
<g transform="translate(939.93,1386.80) scale(1.0081,1)" fill="#231815"><text font-size="17.00">0.00  </text><polygon points="39.42,0.00 37.93,0.00 37.93,-9.42 34.94,-7.51 34.94,-8.96 38.23,-11.70 39.42,-11.70"/><polygon points="48.88,0.00 47.38,0.00 47.38,-9.42 44.39,-7.51 44.39,-8.96 47.69,-11.70 48.88,-11.70"/></g>
<g transform="translate(981.44,1371.70) scale(0.9057,1)" fill="#231815"><text font-size="17.00">&lt;0.000 </text><polygon points="58.80,0.00 57.31,0.00 57.31,-9.42 54.32,-7.51 54.32,-8.96 57.62,-11.70 58.80,-11.70"/></g>
<text transform="translate(1027.05,1357.70) scale(0.9764,1)" font-size="17.00" fill="#231815">0.0288</text>
<line x1="1225.20" y1="1312.20" x2="1225.20" y2="1466.70" stroke="#1a1512" stroke-width="3"/>
<line x1="1218.70" y1="1465.20" x2="1451.40" y2="1465.20" stroke="#1a1512" stroke-width="3"/>
<line x1="1218.70" y1="1313.90" x2="1225.20" y2="1313.90" stroke="#1a1512" stroke-width="3"/>
<line x1="1218.70" y1="1364.60" x2="1225.20" y2="1364.60" stroke="#1a1512" stroke-width="3"/>
<line x1="1218.70" y1="1415.30" x2="1225.20" y2="1415.30" stroke="#1a1512" stroke-width="3"/>
<line x1="1218.70" y1="1465.20" x2="1225.20" y2="1465.20" stroke="#1a1512" stroke-width="3"/>
<line x1="1247.00" y1="1465.20" x2="1247.00" y2="1471.70" stroke="#1a1512" stroke-width="3"/>
<line x1="1292.80" y1="1465.20" x2="1292.80" y2="1471.70" stroke="#1a1512" stroke-width="3"/>
<line x1="1338.00" y1="1465.20" x2="1338.00" y2="1471.70" stroke="#1a1512" stroke-width="3"/>
<line x1="1383.00" y1="1465.20" x2="1383.00" y2="1471.70" stroke="#1a1512" stroke-width="3"/>
<line x1="1427.70" y1="1465.20" x2="1427.70" y2="1471.70" stroke="#1a1512" stroke-width="3"/>
<g transform="translate(1172.49,1323.63) scale(1.0000,1)" fill="#231815"><text font-size="27.50"> 50</text><polygon points="10.25,0.00 7.83,0.00 7.83,-15.24 2.99,-12.15 2.99,-14.50 8.33,-18.92 10.25,-18.92"/></g>
<g transform="translate(1172.49,1374.33) scale(1.0000,1)" fill="#231815"><text font-size="27.50"> 00</text><polygon points="10.25,0.00 7.83,0.00 7.83,-15.24 2.99,-12.15 2.99,-14.50 8.33,-18.92 10.25,-18.92"/></g>
<text transform="translate(1187.79,1425.03) scale(1.0000,1)" font-size="27.50" fill="#231815">50</text>
<text transform="translate(1203.08,1474.93) scale(1.0000,1)" font-size="27.50" fill="#231815">0</text>
<text transform="translate(1239.35,1496.90) scale(1.0000,1)" font-size="27.50" fill="#231815">0</text>
<text transform="translate(1277.52,1496.90) scale(1.0000,1)" font-size="27.50" fill="#231815">30</text>
<text transform="translate(1322.54,1496.90) scale(1.0000,1)" font-size="27.50" fill="#231815">60</text>
<text transform="translate(1367.60,1496.90) scale(1.0000,1)" font-size="27.50" fill="#231815">90</text>
<g transform="translate(1400.80,1496.90) scale(1.0000,1)" fill="#231815"><text font-size="27.50"> 20</text><polygon points="10.25,0.00 7.83,0.00 7.83,-15.24 2.99,-12.15 2.99,-14.50 8.33,-18.92 10.25,-18.92"/></g>
<text transform="translate(1453.93,1496.90) scale(1.0221,1)" font-size="27.50" fill="#231815">min</text>
<g transform="translate(1267.53,1289.70) scale(0.9646,1)" fill="#231815"><text font-size="30.20"> 2 Weeks</text><polygon points="11.25,0.00 8.60,0.00 8.60,-16.74 3.29,-13.35 3.29,-15.93 9.14,-20.78 11.25,-20.78"/></g>
<g transform="translate(1160.70,1507.76) rotate(-90) scale(0.9427,1)" fill="#231815"><text font-size="28.50">% of intinal Glucose</text></g>
<polyline points="1247.0,1365.1 1292.8,1405.4 1338.0,1406.7 1383.0,1404.1 1427.7,1395.0" fill="none" stroke="#8A16AE" stroke-width="2" stroke-linejoin="round"/>
<line x1="1292.79" y1="1391.11" x2="1292.79" y2="1419.71" stroke="#8A16AE" stroke-width="2"/>
<line x1="1289.29" y1="1391.11" x2="1296.29" y2="1391.11" stroke="#8A16AE" stroke-width="2"/>
<line x1="1289.29" y1="1419.71" x2="1296.29" y2="1419.71" stroke="#8A16AE" stroke-width="2"/>
<line x1="1338.03" y1="1382.01" x2="1338.03" y2="1431.41" stroke="#8A16AE" stroke-width="2"/>
<line x1="1334.53" y1="1382.01" x2="1341.53" y2="1382.01" stroke="#8A16AE" stroke-width="2"/>
<line x1="1334.53" y1="1431.41" x2="1341.53" y2="1431.41" stroke="#8A16AE" stroke-width="2"/>
<line x1="1383.01" y1="1390.33" x2="1383.01" y2="1417.11" stroke="#8A16AE" stroke-width="2"/>
<line x1="1379.51" y1="1390.33" x2="1386.51" y2="1390.33" stroke="#8A16AE" stroke-width="2"/>
<line x1="1379.51" y1="1417.11" x2="1386.51" y2="1417.11" stroke="#8A16AE" stroke-width="2"/>
<line x1="1427.73" y1="1379.41" x2="1427.73" y2="1410.09" stroke="#8A16AE" stroke-width="2"/>
<line x1="1424.23" y1="1379.41" x2="1431.23" y2="1379.41" stroke="#8A16AE" stroke-width="2"/>
<line x1="1424.23" y1="1410.09" x2="1431.23" y2="1410.09" stroke="#8A16AE" stroke-width="2"/>
<rect x="1244.03" y="1362.11" width="6.00" height="6.00" fill="#8A16AE" />
<rect x="1289.79" y="1402.41" width="6.00" height="6.00" fill="#8A16AE" />
<rect x="1335.03" y="1403.71" width="6.00" height="6.00" fill="#8A16AE" />
<rect x="1380.01" y="1401.11" width="6.00" height="6.00" fill="#8A16AE" />
<rect x="1424.73" y="1392.01" width="6.00" height="6.00" fill="#8A16AE" />
<polyline points="1247.0,1365.1 1292.8,1412.7 1338.0,1437.1 1383.0,1417.1 1427.7,1404.1" fill="none" stroke="#2655AA" stroke-width="2" stroke-linejoin="round"/>
<line x1="1292.79" y1="1391.11" x2="1292.79" y2="1434.53" stroke="#2655AA" stroke-width="2"/>
<line x1="1289.29" y1="1391.11" x2="1296.29" y2="1391.11" stroke="#2655AA" stroke-width="2"/>
<line x1="1289.29" y1="1434.53" x2="1296.29" y2="1434.53" stroke="#2655AA" stroke-width="2"/>
<line x1="1338.03" y1="1430.89" x2="1338.03" y2="1443.89" stroke="#2655AA" stroke-width="2"/>
<line x1="1334.53" y1="1430.89" x2="1341.53" y2="1430.89" stroke="#2655AA" stroke-width="2"/>
<line x1="1334.53" y1="1443.89" x2="1341.53" y2="1443.89" stroke="#2655AA" stroke-width="2"/>
<line x1="1383.01" y1="1411.91" x2="1383.01" y2="1422.83" stroke="#2655AA" stroke-width="2"/>
<line x1="1379.51" y1="1411.91" x2="1386.51" y2="1411.91" stroke="#2655AA" stroke-width="2"/>
<line x1="1379.51" y1="1422.83" x2="1386.51" y2="1422.83" stroke="#2655AA" stroke-width="2"/>
<line x1="1427.73" y1="1398.91" x2="1427.73" y2="1409.31" stroke="#2655AA" stroke-width="2"/>
<line x1="1424.23" y1="1398.91" x2="1431.23" y2="1398.91" stroke="#2655AA" stroke-width="2"/>
<line x1="1424.23" y1="1409.31" x2="1431.23" y2="1409.31" stroke="#2655AA" stroke-width="2"/>
<circle cx="1247.0" cy="1365.1" r="3.0" fill="#2655AA"/>
<circle cx="1292.8" cy="1412.7" r="3.0" fill="#2655AA"/>
<circle cx="1338.0" cy="1437.1" r="3.0" fill="#2655AA"/>
<circle cx="1383.0" cy="1417.1" r="3.0" fill="#2655AA"/>
<circle cx="1427.7" cy="1404.1" r="3.0" fill="#2655AA"/>
<text transform="translate(1312.13,1371.60) scale(1.0044,1)" font-size="17.00" fill="#231815">0.0042</text>
<circle cx="1428.5" cy="1226.8" r="3.2" fill="#2655AA"/>
<line x1="1420.70" y1="1226.80" x2="1436.30" y2="1226.80" stroke="#2655AA" stroke-width="2.2"/>
<rect x="1425.20" y="1261.50" width="6.60" height="6.00" fill="#8A16AE" />
<line x1="1420.70" y1="1264.50" x2="1436.30" y2="1264.50" stroke="#8A16AE" stroke-width="2.2"/>
<text transform="translate(1444.32,1236.40) scale(1.0000,1)" font-size="29.00" fill="#231815">NFD</text>
<text transform="translate(1445.32,1274.10) scale(1.0000,1)" font-size="29.00" fill="#231815">HFD</text>
<text transform="translate(5.03,348.00) scale(1.0321,1)" font-size="29.00" font-weight="bold" fill="#231815">c</text>
<text transform="translate(0.98,837.80) scale(1.0265,1)" font-size="29.00" font-weight="bold" fill="#231815">d</text>
<rect x="72.00" y="357.00" width="174.00" height="205.00" fill="#2F58AA" />
<rect x="256.00" y="357.00" width="171.00" height="205.00" fill="#2F58AA" />
<rect x="437.00" y="357.00" width="171.50" height="203.50" fill="#2F58AA" />
<rect x="619.50" y="358.00" width="177.00" height="201.00" fill="#2F58AA" />
<rect x="807.00" y="356.50" width="172.50" height="205.00" fill="#2F58AA" />
<rect x="72.00" y="569.00" width="174.00" height="201.00" fill="#2F58AA" />
<rect x="256.50" y="568.50" width="170.50" height="201.50" fill="#2F58AA" />
<rect x="436.00" y="568.50" width="173.00" height="201.50" fill="#2F58AA" />
<rect x="620.50" y="568.50" width="176.50" height="200.50" fill="#2F58AA" />
<rect x="807.00" y="569.00" width="172.50" height="200.00" fill="#2F58AA" />
<rect x="72.50" y="840.00" width="219.50" height="167.00" fill="#2F58AA" />
<rect x="299.50" y="840.50" width="219.50" height="167.00" fill="#2F58AA" />
<rect x="530.00" y="840.50" width="218.00" height="166.20" fill="#2F58AA" />
<rect x="757.30" y="840.30" width="215.40" height="166.40" fill="#2F58AA" />
<rect x="72.00" y="1022.00" width="219.00" height="167.00" fill="#2F58AA" />
<rect x="300.30" y="1022.00" width="219.70" height="167.00" fill="#2F58AA" />
<rect x="530.00" y="1021.70" width="218.70" height="166.00" fill="#2F58AA" />
<rect x="757.30" y="1021.70" width="215.40" height="166.00" fill="#2F58AA" />
<line x1="941.30" y1="756.70" x2="971.00" y2="756.70" stroke="#111" stroke-width="3.5"/>
<line x1="929.30" y1="1177.70" x2="962.70" y2="1177.70" stroke="#111" stroke-width="3.5"/>
<text transform="translate(107.17,342.80) scale(0.9360,1)" font-size="31.00" fill="#231815">0 Weeks</text>
<text transform="translate(292.64,342.80) scale(0.9321,1)" font-size="31.00" fill="#231815">4 Weeks</text>
<text transform="translate(462.04,342.80) scale(0.9363,1)" font-size="31.00" fill="#231815">8 Weeks</text>
<g transform="translate(639.75,342.80) scale(0.9337,1)" fill="#231815"><text font-size="31.00"> 2 Weeks</text><polygon points="11.55,0.00 8.82,0.00 8.82,-17.18 3.38,-13.70 3.38,-16.35 9.38,-21.33 11.55,-21.33"/></g>
<g transform="translate(824.85,342.80) scale(0.9337,1)" fill="#231815"><text font-size="31.00"> 6 Weeks</text><polygon points="11.55,0.00 8.82,0.00 8.82,-17.18 3.38,-13.70 3.38,-16.35 9.38,-21.33 11.55,-21.33"/></g>
<text transform="translate(3.08,473.50) scale(0.9366,1)" font-size="31.50" fill="#231815">NFD</text>
<text transform="translate(3.15,668.20) scale(0.9309,1)" font-size="30.80" fill="#231815">HFD</text>
<text transform="translate(132.94,830.70) scale(0.9279,1)" font-size="31.00" fill="#231815">4 Weeks</text>
<text transform="translate(359.84,830.70) scale(0.9363,1)" font-size="31.00" fill="#231815">8 Weeks</text>
<g transform="translate(578.84,830.70) scale(0.9352,1)" fill="#231815"><text font-size="31.00"> 2 Weeks</text><polygon points="11.55,0.00 8.82,0.00 8.82,-17.18 3.38,-13.70 3.38,-16.35 9.38,-21.33 11.55,-21.33"/></g>
<g transform="translate(805.15,830.70) scale(0.9330,1)" fill="#231815"><text font-size="31.00"> 6 Weeks</text><polygon points="11.55,0.00 8.82,0.00 8.82,-17.18 3.38,-13.70 3.38,-16.35 9.38,-21.33 11.55,-21.33"/></g>
<text transform="translate(3.08,931.90) scale(0.9517,1)" font-size="31.00" fill="#231815">NFD</text>
<text transform="translate(2.31,1114.60) scale(0.9444,1)" font-size="30.80" fill="#231815">HFD</text>
<defs><filter id="fdense" x="0" y="0" width="1" height="1" color-interpolation-filters="sRGB">
<feTurbulence type="fractalNoise" baseFrequency="0.17 0.12" numOctaves="2" seed="3" result="n"/>
<feTurbulence type="fractalNoise" baseFrequency="0.26 0.18" numOctaves="2" seed="53" result="n2"/>
<feColorMatrix in="n" type="matrix" values="0 0 0 0 0  0 0 0 0 0  0 0 0 0 0  0 1 0 0 0" result="ga"/>
<feComponentTransfer in="ga" result="mask"><feFuncA type="discrete" tableValues="0 0 0 0 0 0 1 1 1 1 1 1 1 1 1 1 1 1 1 1"/></feComponentTransfer>
<feMorphology in="mask" operator="erode" radius="0.5" result="inner"/>
<feColorMatrix in="n2" type="matrix" values="2.5 0 0 0 -0.75  2.5 0 0 0 -0.75  2.5 0 0 0 -0.75  0 0 0 0 1" result="gray"/>
<feComponentTransfer in="gray" result="shade"><feFuncR type="table" tableValues="0 0.12 0.42 0.72 0.88 0.93 0.95"/><feFuncG type="table" tableValues="0 0.12 0.42 0.72 0.88 0.93 0.95"/><feFuncB type="table" tableValues="0 0.12 0.42 0.72 0.88 0.93 0.95"/></feComponentTransfer>
<feComposite in="shade" in2="inner" operator="in" result="shadeIn"/>
<feFlood flood-color="#161414" result="blk"/>
<feComposite in="blk" in2="mask" operator="in" result="rim"/>
<feMerge><feMergeNode in="rim"/><feMergeNode in="shadeIn"/></feMerge>
</filter>
<filter id="fdense2" x="0" y="0" width="1" height="1" color-interpolation-filters="sRGB">
<feTurbulence type="fractalNoise" baseFrequency="0.18 0.12" numOctaves="2" seed="7" result="n"/>
<feTurbulence type="fractalNoise" baseFrequency="0.26 0.18" numOctaves="2" seed="57" result="n2"/>
<feColorMatrix in="n" type="matrix" values="0 0 0 0 0  0 0 0 0 0  0 0 0 0 0  0 1 0 0 0" result="ga"/>
<feComponentTransfer in="ga" result="mask"><feFuncA type="discrete" tableValues="0 0 0 0 0 0 1 1 1 1 1 1 1 1 1 1 1 1 1 1"/></feComponentTransfer>
<feMorphology in="mask" operator="erode" radius="0.5" result="inner"/>
<feColorMatrix in="n2" type="matrix" values="2.5 0 0 0 -0.75  2.5 0 0 0 -0.75  2.5 0 0 0 -0.75  0 0 0 0 1" result="gray"/>
<feComponentTransfer in="gray" result="shade"><feFuncR type="table" tableValues="0 0.12 0.42 0.72 0.88 0.93 0.95"/><feFuncG type="table" tableValues="0 0.12 0.42 0.72 0.88 0.93 0.95"/><feFuncB type="table" tableValues="0 0.12 0.42 0.72 0.88 0.93 0.95"/></feComponentTransfer>
<feComposite in="shade" in2="inner" operator="in" result="shadeIn"/>
<feFlood flood-color="#161414" result="blk"/>
<feComposite in="blk" in2="mask" operator="in" result="rim"/>
<feMerge><feMergeNode in="rim"/><feMergeNode in="shadeIn"/></feMerge>
</filter>
<filter id="fvert" x="0" y="0" width="1" height="1" color-interpolation-filters="sRGB">
<feTurbulence type="fractalNoise" baseFrequency="0.22 0.07" numOctaves="2" seed="11" result="n"/>
<feTurbulence type="fractalNoise" baseFrequency="0.3 0.08" numOctaves="2" seed="61" result="n2"/>
<feColorMatrix in="n" type="matrix" values="0 0 0 0 0  0 0 0 0 0  0 0 0 0 0  0 1 0 0 0" result="ga"/>
<feComponentTransfer in="ga" result="mask"><feFuncA type="discrete" tableValues="0 0 0 0 0 0 0 1 1 1 1 1 1 1 1 1 1 1 1 1"/></feComponentTransfer>
<feMorphology in="mask" operator="erode" radius="0.5" result="inner"/>
<feColorMatrix in="n2" type="matrix" values="2.5 0 0 0 -0.75  2.5 0 0 0 -0.75  2.5 0 0 0 -0.75  0 0 0 0 1" result="gray"/>
<feComponentTransfer in="gray" result="shade"><feFuncR type="table" tableValues="0 0.12 0.42 0.72 0.88 0.93 0.95"/><feFuncG type="table" tableValues="0 0.12 0.42 0.72 0.88 0.93 0.95"/><feFuncB type="table" tableValues="0 0.12 0.42 0.72 0.88 0.93 0.95"/></feComponentTransfer>
<feComposite in="shade" in2="inner" operator="in" result="shadeIn"/>
<feFlood flood-color="#161414" result="blk"/>
<feComposite in="blk" in2="mask" operator="in" result="rim"/>
<feMerge><feMergeNode in="rim"/><feMergeNode in="shadeIn"/></feMerge>
</filter>
<filter id="fdark" x="0" y="0" width="1" height="1" color-interpolation-filters="sRGB">
<feTurbulence type="fractalNoise" baseFrequency="0.2 0.14" numOctaves="2" seed="5" result="n"/>
<feTurbulence type="fractalNoise" baseFrequency="0.28 0.2" numOctaves="2" seed="55" result="n2"/>
<feColorMatrix in="n" type="matrix" values="0 0 0 0 0  0 0 0 0 0  0 0 0 0 0  0 1 0 0 0" result="ga"/>
<feComponentTransfer in="ga" result="mask"><feFuncA type="discrete" tableValues="0 0 0 0 0 0 0 1 1 1 1 1 1 1 1 1 1 1 1 1"/></feComponentTransfer>
<feMorphology in="mask" operator="erode" radius="0.5" result="inner"/>
<feColorMatrix in="n2" type="matrix" values="2.5 0 0 0 -0.75  2.5 0 0 0 -0.75  2.5 0 0 0 -0.75  0 0 0 0 1" result="gray"/>
<feComponentTransfer in="gray" result="shade"><feFuncR type="table" tableValues="0 0.04 0.2 0.45 0.75 0.9 0.93"/><feFuncG type="table" tableValues="0 0.04 0.2 0.45 0.75 0.9 0.93"/><feFuncB type="table" tableValues="0 0.04 0.2 0.45 0.75 0.9 0.93"/></feComponentTransfer>
<feComposite in="shade" in2="inner" operator="in" result="shadeIn"/>
<feFlood flood-color="#161414" result="blk"/>
<feComposite in="blk" in2="mask" operator="in" result="rim"/>
<feMerge><feMergeNode in="rim"/><feMergeNode in="shadeIn"/></feMerge>
</filter>
<filter id="fsparse" x="0" y="0" width="1" height="1" color-interpolation-filters="sRGB">
<feTurbulence type="fractalNoise" baseFrequency="0.14 0.14" numOctaves="2" seed="9" result="n"/>
<feTurbulence type="fractalNoise" baseFrequency="0.2 0.2" numOctaves="2" seed="59" result="n2"/>
<feColorMatrix in="n" type="matrix" values="0 0 0 0 0  0 0 0 0 0  0 0 0 0 0  0 1 0 0 0" result="ga"/>
<feComponentTransfer in="ga" result="mask"><feFuncA type="discrete" tableValues="0 0 0 0 0 0 0 0 0 0 0 1 1 1 1 1 1 1 1 1"/></feComponentTransfer>
<feMorphology in="mask" operator="erode" radius="0.01" result="inner"/>
<feColorMatrix in="n2" type="matrix" values="2.0 0 0 0 -0.5  2.0 0 0 0 -0.5  2.0 0 0 0 -0.5  0 0 0 0 1" result="gray"/>
<feComponentTransfer in="gray" result="shade"><feFuncR type="table" tableValues="0 0.15 0.5 0.8 0.93 0.95 0.95"/><feFuncG type="table" tableValues="0 0.15 0.5 0.8 0.93 0.95 0.95"/><feFuncB type="table" tableValues="0 0.15 0.5 0.8 0.93 0.95 0.95"/></feComponentTransfer>
<feComposite in="shade" in2="inner" operator="in" result="shadeIn"/>
<feFlood flood-color="#161414" result="blk"/>
<feComposite in="blk" in2="mask" operator="in" result="rim"/>
<feMerge><feMergeNode in="rim"/><feMergeNode in="shadeIn"/></feMerge>
</filter>
<filter id="fsparse2" x="0" y="0" width="1" height="1" color-interpolation-filters="sRGB">
<feTurbulence type="fractalNoise" baseFrequency="0.16 0.16" numOctaves="2" seed="13" result="n"/>
<feTurbulence type="fractalNoise" baseFrequency="0.2 0.2" numOctaves="2" seed="63" result="n2"/>
<feColorMatrix in="n" type="matrix" values="0 0 0 0 0  0 0 0 0 0  0 0 0 0 0  0 1 0 0 0" result="ga"/>
<feComponentTransfer in="ga" result="mask"><feFuncA type="discrete" tableValues="0 0 0 0 0 0 0 0 0 0 0 0 1 1 1 1 1 1 1 1"/></feComponentTransfer>
<feMorphology in="mask" operator="erode" radius="0.01" result="inner"/>
<feColorMatrix in="n2" type="matrix" values="2.0 0 0 0 -0.5  2.0 0 0 0 -0.5  2.0 0 0 0 -0.5  0 0 0 0 1" result="gray"/>
<feComponentTransfer in="gray" result="shade"><feFuncR type="table" tableValues="0 0.15 0.5 0.8 0.93 0.95 0.95"/><feFuncG type="table" tableValues="0 0.15 0.5 0.8 0.93 0.95 0.95"/><feFuncB type="table" tableValues="0 0.15 0.5 0.8 0.93 0.95 0.95"/></feComponentTransfer>
<feComposite in="shade" in2="inner" operator="in" result="shadeIn"/>
<feFlood flood-color="#161414" result="blk"/>
<feComposite in="blk" in2="mask" operator="in" result="rim"/>
<feMerge><feMergeNode in="rim"/><feMergeNode in="shadeIn"/></feMerge>
</filter>
<filter id="ffine" x="0" y="0" width="1" height="1" color-interpolation-filters="sRGB">
<feTurbulence type="fractalNoise" baseFrequency="0.3 0.3" numOctaves="2" seed="17" result="n"/>
<feTurbulence type="fractalNoise" baseFrequency="0.3 0.3" numOctaves="2" seed="67" result="n2"/>
<feColorMatrix in="n" type="matrix" values="0 0 0 0 0  0 0 0 0 0  0 0 0 0 0  0 1 0 0 0" result="ga"/>
<feComponentTransfer in="ga" result="mask"><feFuncA type="discrete" tableValues="0 0 0 0 0 0 0 0 1 1 1 1 1 1 1 1 1 1 1 1"/></feComponentTransfer>
<feMorphology in="mask" operator="erode" radius="0.01" result="inner"/>
<feColorMatrix in="n2" type="matrix" values="2.5 0 0 0 -0.75  2.5 0 0 0 -0.75  2.5 0 0 0 -0.75  0 0 0 0 1" result="gray"/>
<feComponentTransfer in="gray" result="shade"><feFuncR type="table" tableValues="0 0.1 0.4 0.75 0.9 0.95 0.95"/><feFuncG type="table" tableValues="0 0.1 0.4 0.75 0.9 0.95 0.95"/><feFuncB type="table" tableValues="0 0.1 0.4 0.75 0.9 0.95 0.95"/></feComponentTransfer>
<feComposite in="shade" in2="inner" operator="in" result="shadeIn"/>
<feFlood flood-color="#161414" result="blk"/>
<feComposite in="blk" in2="mask" operator="in" result="rim"/>
<feMerge><feMergeNode in="rim"/><feMergeNode in="shadeIn"/></feMerge>
</filter>
<radialGradient id="spk" cx="0.4" cy="0.35" r="0.7"><stop offset="0" stop-color="#f6f6f4"/><stop offset="0.55" stop-color="#d8d8d4"/><stop offset="0.85" stop-color="#6a6a66"/><stop offset="1" stop-color="#2a2a28"/></radialGradient>
<filter id="fvsparse" x="0" y="0" width="1" height="1" color-interpolation-filters="sRGB">
<feTurbulence type="fractalNoise" baseFrequency="0.22 0.07" numOctaves="2" seed="21" result="n"/>
<feTurbulence type="fractalNoise" baseFrequency="0.2 0.05" numOctaves="3" seed="71" result="n2"/>
<feColorMatrix in="n" type="matrix" values="0 0 0 0 0  0 0 0 0 0  0 0 0 0 0  0 1 0 0 0" result="ga"/>
<feComponentTransfer in="ga" result="mask"><feFuncA type="discrete" tableValues="0 0 0 0 0 0 0 0 0 1 1 1 1 1 1 1 1 1 1 1"/></feComponentTransfer>
<feMorphology in="mask" operator="erode" radius="0.5" result="inner"/>
<feColorMatrix in="n2" type="matrix" values="2.5 0 0 0 -0.75  2.5 0 0 0 -0.75  2.5 0 0 0 -0.75  0 0 0 0 1" result="gray"/>
<feComponentTransfer in="gray" result="shade"><feFuncR type="table" tableValues="0 0.12 0.42 0.72 0.88 0.93 0.95"/><feFuncG type="table" tableValues="0 0.12 0.42 0.72 0.88 0.93 0.95"/><feFuncB type="table" tableValues="0 0.12 0.42 0.72 0.88 0.93 0.95"/></feComponentTransfer>
<feComposite in="shade" in2="inner" operator="in" result="shadeIn"/>
<feFlood flood-color="#161414" result="blk"/>
<feComposite in="blk" in2="mask" operator="in" result="rim"/>
<feMerge><feMergeNode in="rim"/><feMergeNode in="shadeIn"/></feMerge>
</filter>
<filter id="fvsparse2" x="0" y="0" width="1" height="1" color-interpolation-filters="sRGB">
<feTurbulence type="fractalNoise" baseFrequency="0.2 0.08" numOctaves="2" seed="23" result="n"/>
<feTurbulence type="fractalNoise" baseFrequency="0.15 0.06" numOctaves="2" seed="73" result="n2"/>
<feColorMatrix in="n" type="matrix" values="0 0 0 0 0  0 0 0 0 0  0 0 0 0 0  0 1 0 0 0" result="ga"/>
<feComponentTransfer in="ga" result="mask"><feFuncA type="discrete" tableValues="0 0 0 0 0 0 0 0 0 0 0 0 1 1 1 1 1 1 1 1"/></feComponentTransfer>
<feMorphology in="mask" operator="erode" radius="0.5" result="inner"/>
<feColorMatrix in="n2" type="matrix" values="2.0 0 0 0 -0.5  2.0 0 0 0 -0.5  2.0 0 0 0 -0.5  0 0 0 0 1" result="gray"/>
<feComponentTransfer in="gray" result="shade"><feFuncR type="table" tableValues="0.1 0.35 0.75 0.9 0.95 0.95 0.95"/><feFuncG type="table" tableValues="0.1 0.35 0.75 0.9 0.95 0.95 0.95"/><feFuncB type="table" tableValues="0.1 0.35 0.75 0.9 0.95 0.95 0.95"/></feComponentTransfer>
<feComposite in="shade" in2="inner" operator="in" result="shadeIn"/>
<feFlood flood-color="#161414" result="blk"/>
<feComposite in="blk" in2="mask" operator="in" result="rim"/>
<feMerge><feMergeNode in="rim"/><feMergeNode in="shadeIn"/></feMerge>
</filter>
<clipPath id="cp1"><path d="M132.1,886.9 L254.6,885.5 L260.5,898.7 L253.9,901.6 L226.0,906.0 L204.0,922.1 L189.3,942.7 L174.7,965.4 L160.0,965.4 L155.6,928.0 L142.4,908.9 L120.4,906.7 L118.9,899.4 Z " clip-rule="evenodd"/></clipPath>
<clipPath id="cp2"><path d="M116.0,906.0 L154.1,908.9 L160.0,965.4 L108.7,966.1 L111.6,942.7 Z " clip-rule="evenodd"/></clipPath>
<clipPath id="cp3"><path d="M357.2,884.7 L478.2,884.7 L484.8,889.9 L483.3,898.7 L461.3,900.1 L432.0,908.9 L417.3,930.9 L402.7,961.7 L379.2,961.7 L376.3,942.7 L361.6,906.0 L351.3,922.1 L348.4,961.7 L326.4,961.7 L329.3,930.9 L339.6,903.1 L348.4,889.9 Z " clip-rule="evenodd"/></clipPath>
<clipPath id="cp4"><path d="M348.4,906.0 L379.2,906.0 L379.2,961.7 L348.4,961.7 Z " clip-rule="evenodd"/></clipPath>
<clipPath id="cp5"><path d="M585.7,888.4 L606.3,883.3 L712.6,883.3 L714.1,894.3 L676.7,898.7 L659.1,906.0 L656.1,916.3 L647.3,928.0 L623.9,928.0 L612.1,919.2 L593.1,916.3 L578.4,910.4 L578.4,898.7 Z " clip-rule="evenodd"/></clipPath>
<clipPath id="cp6"><path d="M623.9,926.5 L647.3,926.5 L645.9,966.1 L623.9,966.1 Z " clip-rule="evenodd"/></clipPath>
<clipPath id="cp7"><path d="M575.5,928.0 L591.6,922.1 L593.1,948.5 L588.7,964.7 L574.0,964.7 Z " clip-rule="evenodd"/></clipPath>
<clipPath id="cp8"><path d="M588.7,944.9 L598.9,947.8 L612.1,946.3 L624.6,942.7 L624.6,953.7 L612.1,955.9 L598.9,954.4 L588.7,955.9 Z " clip-rule="evenodd"/></clipPath>
<clipPath id="cp9"><path d="M566.7,922.1 L623.9,919.2 L623.9,942.7 L566.7,933.9 Z " clip-rule="evenodd"/></clipPath>
<clipPath id="cp10"><path d="M803.1,880.3 L876.5,880.3 L872.2,912.0 L866.4,969.6 L821.8,969.6 L816.0,952.3 L811.7,933.6 Z " clip-rule="evenodd"/></clipPath>
<clipPath id="cp11"><path d="M876.5,880.3 L951.4,880.3 L944.2,894.7 L938.5,920.6 L925.5,940.8 L908.2,953.8 L901.0,955.2 L866.4,969.6 L872.2,912.0 Z " clip-rule="evenodd"/></clipPath>
<clipPath id="cp12"><path d="M136.5,1066.0 L236.3,1066.7 L242.1,1072.6 L218.7,1077.7 L204.0,1088.0 L189.3,1110.0 L177.6,1145.2 L162.9,1145.2 L151.2,1117.3 L138.0,1104.1 L120.4,1110.0 L114.5,1088.0 L126.3,1068.9 Z M161.5,1111.5 L174.7,1105.6 L183.5,1111.5 L176.9,1136.4 L169.5,1137.9 L162.9,1124.7 Z" clip-rule="evenodd"/></clipPath>
<clipPath id="cp13"><path d="M108.7,1105.6 L140.9,1105.6 L140.9,1142.3 L108.7,1142.3 Z " clip-rule="evenodd"/></clipPath>
<clipPath id="cp14"><path d="M351.3,1095.3 L446.7,1095.3 L432.0,1124.7 L424.7,1132.0 L417.3,1146.7 L336.7,1146.7 Z " clip-rule="evenodd"/></clipPath>
<clipPath id="cp15"><path d="M363.1,1068.9 L493.6,1068.9 L481.9,1079.2 L468.7,1086.5 L446.7,1099.7 L439.3,1105.6 L417.3,1104.1 L388.0,1108.5 L361.6,1104.1 L349.9,1105.6 L357.2,1080.7 Z " clip-rule="evenodd"/></clipPath>
<clipPath id="cp16"><path d="M582.8,1063.1 L717.7,1061.6 L717.7,1066.0 L691.3,1071.9 L676.7,1088.0 L662.0,1104.1 L654.7,1117.3 L644.4,1133.5 L641.5,1143.7 L618.0,1143.7 L618.0,1115.9 L632.7,1110.0 L644.4,1088.0 L612.1,1088.0 L591.6,1095.3 L578.4,1090.9 L575.5,1080.7 Z " clip-rule="evenodd"/></clipPath>
<clipPath id="cp17"><path d="M566.7,1098.3 L618.0,1095.3 L632.7,1110.0 L618.0,1145.2 L566.7,1139.3 Z " clip-rule="evenodd"/></clipPath>
<clipPath id="cp18"><path d="M797.3,1060.9 L928.4,1060.9 L926.9,1073.8 L918.3,1082.5 L800.2,1085.4 Z " clip-rule="evenodd"/></clipPath>
<clipPath id="cp19"><path d="M800.2,1082.5 L918.3,1082.5 L901.0,1099.8 L886.6,1108.4 L857.8,1115.6 L829.0,1114.2 L804.5,1108.4 Z " clip-rule="evenodd"/></clipPath>
<clipPath id="cp20"><path d="M804.5,1102.6 L886.6,1102.6 L872.2,1122.8 L829.0,1125.7 L814.6,1137.2 Z " clip-rule="evenodd"/></clipPath>
<filter id="fmed" x="0" y="0" width="1" height="1" color-interpolation-filters="sRGB">
<feTurbulence type="fractalNoise" baseFrequency="0.3 0.3" numOctaves="2" seed="31" result="n"/>
<feTurbulence type="fractalNoise" baseFrequency="0.25 0.25" numOctaves="2" seed="81" result="n2"/>
<feColorMatrix in="n" type="matrix" values="0 0 0 0 0  0 0 0 0 0  0 0 0 0 0  0 1 0 0 0" result="ga"/>
<feComponentTransfer in="ga" result="mask"><feFuncA type="discrete" tableValues="0 0 0 0 0 0 0 0 0 0 0 1 1 1 1 1 1 1 1 1"/></feComponentTransfer>
<feMorphology in="mask" operator="erode" radius="0.01" result="inner"/>
<feColorMatrix in="n2" type="matrix" values="2.5 0 0 0 -0.75  2.5 0 0 0 -0.75  2.5 0 0 0 -0.75  0 0 0 0 1" result="gray"/>
<feComponentTransfer in="gray" result="shade"><feFuncR type="table" tableValues="0 0.1 0.45 0.8 0.95 1 1"/><feFuncG type="table" tableValues="0 0.1 0.45 0.8 0.95 1 1"/><feFuncB type="table" tableValues="0 0.1 0.45 0.8 0.95 1 1"/></feComponentTransfer>
<feComposite in="shade" in2="inner" operator="in" result="shadeIn"/>
<feFlood flood-color="#161414" result="blk"/>
<feComposite in="blk" in2="mask" operator="in" result="rim"/>
<feMerge><feMergeNode in="rim"/><feMergeNode in="shadeIn"/></feMerge>
</filter>
<filter id="fmed2" x="0" y="0" width="1" height="1" color-interpolation-filters="sRGB">
<feTurbulence type="fractalNoise" baseFrequency="0.32 0.32" numOctaves="2" seed="37" result="n"/>
<feTurbulence type="fractalNoise" baseFrequency="0.25 0.25" numOctaves="2" seed="87" result="n2"/>
<feColorMatrix in="n" type="matrix" values="0 0 0 0 0  0 0 0 0 0  0 0 0 0 0  0 1 0 0 0" result="ga"/>
<feComponentTransfer in="ga" result="mask"><feFuncA type="discrete" tableValues="0 0 0 0 0 0 0 0 0 0 0 0 0 1 1 1 1 1 1 1"/></feComponentTransfer>
<feMorphology in="mask" operator="erode" radius="0.01" result="inner"/>
<feColorMatrix in="n2" type="matrix" values="2.5 0 0 0 -0.75  2.5 0 0 0 -0.75  2.5 0 0 0 -0.75  0 0 0 0 1" result="gray"/>
<feComponentTransfer in="gray" result="shade"><feFuncR type="table" tableValues="0.1 0.3 0.7 0.95 1 1 1"/><feFuncG type="table" tableValues="0.1 0.3 0.7 0.95 1 1 1"/><feFuncB type="table" tableValues="0.1 0.3 0.7 0.95 1 1 1"/></feComponentTransfer>
<feComposite in="shade" in2="inner" operator="in" result="shadeIn"/>
<feFlood flood-color="#161414" result="blk"/>
<feComposite in="blk" in2="mask" operator="in" result="rim"/>
<feMerge><feMergeNode in="rim"/><feMergeNode in="shadeIn"/></feMerge>
</filter>
<clipPath id="cp21"><path d="M500.9,608.8 L530.9,608.8 L534.8,618.5 L528.3,642.0 L520.4,652.4 L510.0,660.3 L498.3,657.7 L493.1,642.0 L494.4,621.2 Z " clip-rule="evenodd"/></clipPath>
<clipPath id="cp22"><path d="M493.1,642.0 L520.4,647.2 L515.2,660.3 L504.8,675.9 L491.8,699.4 L483.9,726.8 L468.3,726.8 L476.1,692.9 L486.5,666.8 Z " clip-rule="evenodd"/></clipPath>
<clipPath id="cp23"><path d="M528.3,608.1 L577.8,608.1 L577.8,631.6 L547.8,649.8 L521.7,708.5 L510.0,708.5 L528.3,642.0 Z " clip-rule="evenodd"/></clipPath>
<clipPath id="cp24"><path d="M685.2,609.4 L732.2,612.0 L729.6,627.7 L721.7,652.5 L711.3,673.3 L703.5,686.4 L698.3,721.6 L669.6,721.6 L681.3,673.3 L682.6,634.2 Z " clip-rule="evenodd"/></clipPath>
<clipPath id="cp25"><path d="M732.2,606.8 L780.4,606.8 L780.4,623.8 L763.5,634.2 L732.2,642.0 Z " clip-rule="evenodd"/></clipPath>
<clipPath id="cp26"><path d="M674.8,608.1 L687.8,608.1 L682.6,634.2 L681.3,673.3 L669.6,722.9 L663.0,722.9 L672.2,673.3 Z " clip-rule="evenodd"/></clipPath>
<clipPath id="cp27"><path d="M729.6,612.0 L737.4,612.0 L727.0,653.8 L711.3,686.4 L706.1,721.6 L698.3,721.6 L703.5,686.4 L721.7,652.5 Z " clip-rule="evenodd"/></clipPath>
<clipPath id="cp28"><path d="M877.5,618.6 L902.2,621.2 L900.9,642.1 L890.5,651.2 L880.1,653.8 L876.1,636.8 Z " clip-rule="evenodd"/></clipPath>
<filter id="fwhite" x="0" y="0" width="1" height="1" color-interpolation-filters="sRGB">
<feTurbulence type="fractalNoise" baseFrequency="0.2 0.2" numOctaves="2" seed="41" result="n"/>
<feTurbulence type="fractalNoise" baseFrequency="0.12 0.12" numOctaves="2" seed="91" result="n2"/>
<feColorMatrix in="n" type="matrix" values="0 0 0 0 0  0 0 0 0 0  0 0 0 0 0  0 1 0 0 0" result="ga"/>
<feComponentTransfer in="ga" result="mask"><feFuncA type="discrete" tableValues="0 0 1 1 1 1 1 1 1 1 1 1 1 1 1 1 1 1 1 1"/></feComponentTransfer>
<feMorphology in="mask" operator="erode" radius="0.6" result="inner"/>
<feColorMatrix in="n2" type="matrix" values="2.0 0 0 0 -0.5  2.0 0 0 0 -0.5  2.0 0 0 0 -0.5  0 0 0 0 1" result="gray"/>
<feComponentTransfer in="gray" result="shade"><feFuncR type="table" tableValues="0.45 0.75 0.92 1 1 1 1"/><feFuncG type="table" tableValues="0.45 0.75 0.92 1 1 1 1"/><feFuncB type="table" tableValues="0.45 0.75 0.92 1 1 1 1"/></feComponentTransfer>
<feComposite in="shade" in2="inner" operator="in" result="shadeIn"/>
<feFlood flood-color="#161414" result="blk"/>
<feComposite in="blk" in2="mask" operator="in" result="rim"/>
<feMerge><feMergeNode in="rim"/><feMergeNode in="shadeIn"/></feMerge>
</filter>
<clipPath id="cp29"><path d="M663.0,652.5 L669.6,648.6 L674.8,653.8 L677.4,660.3 L674.8,668.1 L668.3,669.4 L661.7,665.5 Z " clip-rule="evenodd"/></clipPath>
<clipPath id="cp30"><path d="M659.1,673.3 L667.0,669.4 L674.8,673.3 L673.5,686.4 L668.3,696.8 L659.1,696.8 L657.8,686.4 Z " clip-rule="evenodd"/></clipPath>
<clipPath id="cp31"><path d="M653.9,707.3 L659.1,702.0 L665.7,702.0 L667.0,707.3 L659.1,708.6 Z " clip-rule="evenodd"/></clipPath>
<clipPath id="cp32"><path d="M652.6,721.6 L656.5,712.5 L661.7,711.2 L664.3,722.9 Z " clip-rule="evenodd"/></clipPath></defs>
<g clip-path="url(#cp1)"><rect x="118.9" y="885.5" width="141.5" height="79.9" fill="#fff" filter="url(#fdense)"/></g>
<g clip-path="url(#cp2)"><rect x="108.7" y="906.0" width="51.3" height="60.1" fill="#fff" filter="url(#fsparse)"/></g>
<g clip-path="url(#cp3)"><rect x="326.4" y="884.7" width="158.4" height="77.0" fill="#fff" filter="url(#fdense2)"/></g>
<g clip-path="url(#cp4)"><rect x="348.4" y="906.0" width="30.8" height="55.7" fill="#fff" filter="url(#fsparse)"/></g>
<g clip-path="url(#cp5)"><rect x="578.4" y="883.3" width="135.7" height="44.7" fill="#fff" filter="url(#fdense)"/></g>
<g clip-path="url(#cp6)"><rect x="623.9" y="926.5" width="23.5" height="39.6" fill="#fff" filter="url(#fdense2)"/></g>
<g clip-path="url(#cp7)"><rect x="574.0" y="922.1" width="19.1" height="42.5" fill="#fff" filter="url(#fdense2)"/></g>
<g clip-path="url(#cp8)"><rect x="588.7" y="942.7" width="35.9" height="13.2" fill="#fff" filter="url(#fdense2)"/></g>
<g clip-path="url(#cp9)"><rect x="566.7" y="919.2" width="57.2" height="23.5" fill="#fff" filter="url(#fsparse2)"/></g>
<g clip-path="url(#cp10)"><rect x="803.1" y="880.3" width="73.4" height="89.3" fill="#fff" filter="url(#fvert)"/></g>
<g clip-path="url(#cp11)"><rect x="866.4" y="880.3" width="85.0" height="89.3" fill="#fff" filter="url(#fvsparse)"/></g>
<g clip-path="url(#cp12)"><rect x="114.5" y="1066.0" width="127.6" height="79.2" fill="#fff" filter="url(#fdark)"/></g>
<g clip-path="url(#cp13)"><rect x="108.7" y="1105.6" width="32.3" height="36.7" fill="#fff" filter="url(#fsparse2)"/></g>
<g clip-path="url(#cp14)"><rect x="336.7" y="1095.3" width="110.0" height="51.3" fill="#fff" filter="url(#fvert)"/></g>
<g clip-path="url(#cp15)"><rect x="349.9" y="1068.9" width="143.7" height="39.6" fill="#fff" filter="url(#fdense2)"/></g>
<g clip-path="url(#cp16)"><rect x="575.5" y="1061.6" width="142.3" height="82.1" fill="#fff" filter="url(#fdense)"/></g>
<g clip-path="url(#cp17)"><rect x="566.7" y="1095.3" width="66.0" height="49.9" fill="#fff" filter="url(#fsparse)"/></g>
<g clip-path="url(#cp18)"><rect x="797.3" y="1060.9" width="131.0" height="24.5" fill="#fff" filter="url(#fvert)"/></g>
<g clip-path="url(#cp19)"><rect x="800.2" y="1082.5" width="118.1" height="33.1" fill="#fff" filter="url(#fvsparse)"/></g>
<g clip-path="url(#cp20)"><rect x="804.5" y="1102.6" width="82.1" height="34.6" fill="#fff" filter="url(#fsparse2)"/></g>
<ellipse cx="824.7" cy="1125.0" rx="3.5" ry="2.5" transform="rotate(0 824.7 1125.0)" fill="url(#spk)"/>
<ellipse cx="846.3" cy="1121.4" rx="4" ry="2.5" transform="rotate(20 846.3 1121.4)" fill="url(#spk)"/>
<ellipse cx="873.6" cy="1134.3" rx="6" ry="3.5" transform="rotate(-15 873.6 1134.3)" fill="url(#spk)"/>
<ellipse cx="818.9" cy="1143.7" rx="2" ry="3.5" transform="rotate(-10 818.9 1143.7)" fill="url(#spk)"/>
<g clip-path="url(#cp21)"><rect x="493.1" y="608.8" width="41.7" height="51.5" fill="#fff" filter="url(#ffine)"/></g>
<g clip-path="url(#cp22)"><rect x="468.3" y="642.0" width="52.2" height="84.7" fill="#fff" filter="url(#fmed)"/></g>
<g clip-path="url(#cp23)"><rect x="510.0" y="608.1" width="67.8" height="100.4" fill="#fff" filter="url(#fmed2)"/></g>
<g clip-path="url(#cp24)"><rect x="669.6" y="609.4" width="62.6" height="112.2" fill="#fff" filter="url(#ffine)"/></g>
<g clip-path="url(#cp25)"><rect x="732.2" y="606.8" width="48.3" height="35.2" fill="#fff" filter="url(#fsparse2)"/></g>
<g clip-path="url(#cp26)"><rect x="663.0" y="608.1" width="24.8" height="114.8" fill="#fff" filter="url(#fmed)"/></g>
<g clip-path="url(#cp27)"><rect x="698.3" y="612.0" width="39.1" height="109.6" fill="#fff" filter="url(#fmed)"/></g>
<g clip-path="url(#cp28)"><rect x="876.1" y="618.6" width="26.1" height="35.2" fill="#fff" filter="url(#ffine)"/></g>
<ellipse cx="202.7" cy="460.7" rx="1.3" ry="2.0" transform="rotate(0 202.7 460.7)" fill="url(#spk)"/>
<ellipse cx="205.3" cy="403.7" rx="0.8" ry="0.8" transform="rotate(0 205.3 403.7)" fill="url(#spk)"/>
<ellipse cx="114.3" cy="430.7" rx="0.6" ry="0.6" transform="rotate(0 114.3 430.7)" fill="url(#spk)"/>
<ellipse cx="184.3" cy="467.7" rx="0.6" ry="0.6" transform="rotate(0 184.3 467.7)" fill="url(#spk)"/>
<ellipse cx="333.0" cy="411.7" rx="0.9" ry="0.9" transform="rotate(0 333.0 411.7)" fill="url(#spk)"/>
<ellipse cx="377.7" cy="403.7" rx="0.8" ry="0.8" transform="rotate(0 377.7 403.7)" fill="url(#spk)"/>
<ellipse cx="361.7" cy="495.7" rx="0.9" ry="0.9" transform="rotate(0 361.7 495.7)" fill="url(#spk)"/>
<ellipse cx="171.7" cy="656.0" rx="1" ry="0.8" transform="rotate(0 171.7 656.0)" fill="url(#spk)"/>
<ellipse cx="162.7" cy="654.7" rx="0.6" ry="0.6" transform="rotate(0 162.7 654.7)" fill="url(#spk)"/>
<ellipse cx="340.7" cy="696.0" rx="2" ry="3.5" transform="rotate(30 340.7 696.0)" fill="url(#spk)"/>
<ellipse cx="326.0" cy="727.0" rx="3" ry="4" transform="rotate(30 326.0 727.0)" fill="url(#spk)"/>
<ellipse cx="478.0" cy="456.6" rx="2.5" ry="9" transform="rotate(5 478.0 456.6)" fill="url(#spk)"/>
<ellipse cx="577.8" cy="405.6" rx="4" ry="4" transform="rotate(0 577.8 405.6)" fill="url(#spk)"/>
<ellipse cx="543.7" cy="434.2" rx="2" ry="3.5" transform="rotate(30 543.7 434.2)" fill="url(#spk)"/>
<ellipse cx="534.8" cy="468.2" rx="1.3" ry="2.5" transform="rotate(20 534.8 468.2)" fill="url(#spk)"/>
<ellipse cx="484.6" cy="398.2" rx="1" ry="2" transform="rotate(0 484.6 398.2)" fill="url(#spk)"/>
<ellipse cx="516.7" cy="503.0" rx="1" ry="1" transform="rotate(0 516.7 503.0)" fill="url(#spk)"/>
<ellipse cx="566.2" cy="424.1" rx="0.8" ry="0.8" transform="rotate(0 566.2 424.1)" fill="url(#spk)"/>
<ellipse cx="541.8" cy="448.1" rx="0.8" ry="0.8" transform="rotate(0 541.8 448.1)" fill="url(#spk)"/>
<ellipse cx="758.4" cy="403.2" rx="5" ry="2.5" transform="rotate(-20 758.4 403.2)" fill="url(#spk)"/>
<ellipse cx="648.9" cy="498.8" rx="2" ry="2.5" transform="rotate(0 648.9 498.8)" fill="url(#spk)"/>
<ellipse cx="663.6" cy="405.6" rx="1" ry="1" transform="rotate(0 663.6 405.6)" fill="url(#spk)"/>
<ellipse cx="675.2" cy="423.7" rx="1" ry="1" transform="rotate(0 675.2 423.7)" fill="url(#spk)"/>
<ellipse cx="673.7" cy="440.4" rx="1" ry="1" transform="rotate(0 673.7 440.4)" fill="url(#spk)"/>
<ellipse cx="720.9" cy="494.1" rx="1" ry="1" transform="rotate(0 720.9 494.1)" fill="url(#spk)"/>
<ellipse cx="708.1" cy="459.7" rx="0.8" ry="0.8" transform="rotate(0 708.1 459.7)" fill="url(#spk)"/>
<ellipse cx="717.8" cy="508.8" rx="0.8" ry="0.8" transform="rotate(0 717.8 508.8)" fill="url(#spk)"/>
<ellipse cx="670.6" cy="414.1" rx="0.8" ry="0.8" transform="rotate(0 670.6 414.1)" fill="url(#spk)"/>
<ellipse cx="835.1" cy="395.3" rx="5" ry="2.2" transform="rotate(0 835.1 395.3)" fill="url(#spk)"/>
<ellipse cx="843.6" cy="398.1" rx="1.6" ry="2.5" transform="rotate(0 843.6 398.1)" fill="url(#spk)"/>
<ellipse cx="852.0" cy="394.9" rx="6" ry="3.2" transform="rotate(0 852.0 394.9)" fill="url(#spk)"/>
<ellipse cx="859.9" cy="398.5" rx="5" ry="2" transform="rotate(0 859.9 398.5)" fill="url(#spk)"/>
<ellipse cx="865.7" cy="394.6" rx="4" ry="2" transform="rotate(0 865.7 394.6)" fill="url(#spk)"/>
<ellipse cx="876.2" cy="394.6" rx="4" ry="2.2" transform="rotate(0 876.2 394.6)" fill="url(#spk)"/>
<ellipse cx="886.6" cy="394.6" rx="5" ry="2.4" transform="rotate(0 886.6 394.6)" fill="url(#spk)"/>
<ellipse cx="893.8" cy="395.5" rx="4" ry="2" transform="rotate(0 893.8 395.5)" fill="url(#spk)"/>
<ellipse cx="901.0" cy="395.1" rx="3" ry="1.8" transform="rotate(0 901.0 395.1)" fill="url(#spk)"/>
<ellipse cx="882.7" cy="401.0" rx="1.4" ry="1.4" transform="rotate(0 882.7 401.0)" fill="url(#spk)"/>
<ellipse cx="890.6" cy="402.7" rx="1.2" ry="1.2" transform="rotate(0 890.6 402.7)" fill="url(#spk)"/>
<ellipse cx="901.0" cy="405.6" rx="1.6" ry="1.6" transform="rotate(0 901.0 405.6)" fill="url(#spk)"/>
<ellipse cx="910.5" cy="398.0" rx="1.2" ry="1.2" transform="rotate(0 910.5 398.0)" fill="url(#spk)"/>
<ellipse cx="919.5" cy="404.0" rx="3" ry="1.8" transform="rotate(0 919.5 404.0)" fill="url(#spk)"/>
<ellipse cx="930.1" cy="404.7" rx="1.6" ry="2.5" transform="rotate(0 930.1 404.7)" fill="url(#spk)"/>
<ellipse cx="919.5" cy="409.7" rx="1.5" ry="1.5" transform="rotate(0 919.5 409.7)" fill="url(#spk)"/>
<ellipse cx="923.6" cy="411.6" rx="2" ry="2" transform="rotate(0 923.6 411.6)" fill="url(#spk)"/>
<ellipse cx="932.3" cy="411.8" rx="1" ry="1" transform="rotate(0 932.3 411.8)" fill="url(#spk)"/>
<ellipse cx="947.3" cy="417.7" rx="1.6" ry="3" transform="rotate(30 947.3 417.7)" fill="url(#spk)"/>
<ellipse cx="959.1" cy="396.2" rx="1.4" ry="2.5" transform="rotate(0 959.1 396.2)" fill="url(#spk)"/>
<ellipse cx="959.7" cy="406.6" rx="2.5" ry="2" transform="rotate(0 959.7 406.6)" fill="url(#spk)"/>
<ellipse cx="951.9" cy="406.2" rx="1" ry="1" transform="rotate(0 951.9 406.2)" fill="url(#spk)"/>
<ellipse cx="888.6" cy="420.7" rx="1.5" ry="2.2" transform="rotate(40 888.6 420.7)" fill="url(#spk)"/>
<ellipse cx="910.5" cy="419.0" rx="1" ry="1" transform="rotate(0 910.5 419.0)" fill="url(#spk)"/>
<ellipse cx="938.2" cy="432.5" rx="1" ry="1" transform="rotate(0 938.2 432.5)" fill="url(#spk)"/>
<ellipse cx="899.0" cy="442.5" rx="1" ry="1" transform="rotate(0 899.0 442.5)" fill="url(#spk)"/>
<ellipse cx="897.1" cy="454.3" rx="1" ry="1" transform="rotate(0 897.1 454.3)" fill="url(#spk)"/>
<ellipse cx="885.3" cy="501.9" rx="1.4" ry="1.4" transform="rotate(0 885.3 501.9)" fill="url(#spk)"/>
<ellipse cx="870.1" cy="515.4" rx="1.2" ry="1.2" transform="rotate(0 870.1 515.4)" fill="url(#spk)"/>
<ellipse cx="868.6" cy="521.1" rx="1.6" ry="1.6" transform="rotate(0 868.6 521.1)" fill="url(#spk)"/>
<ellipse cx="875.1" cy="522.1" rx="1.2" ry="1.2" transform="rotate(0 875.1 522.1)" fill="url(#spk)"/>
<ellipse cx="862.1" cy="493.8" rx="1" ry="1" transform="rotate(0 862.1 493.8)" fill="url(#spk)"/>
<ellipse cx="846.4" cy="626.4" rx="3.2" ry="3.2" transform="rotate(0 846.4 626.4)" fill="url(#spk)"/>
<ellipse cx="837.8" cy="627.8" rx="2" ry="2" transform="rotate(0 837.8 627.8)" fill="url(#spk)"/>
<ellipse cx="852.0" cy="640.8" rx="1.5" ry="1.5" transform="rotate(0 852.0 640.8)" fill="url(#spk)"/>
<ellipse cx="863.1" cy="647.3" rx="1.2" ry="11" transform="rotate(-3 863.1 647.3)" fill="url(#spk)"/>
<ellipse cx="886.6" cy="616.2" rx="2" ry="2.5" transform="rotate(0 886.6 616.2)" fill="url(#spk)"/>
<ellipse cx="887.9" cy="660.3" rx="1.6" ry="1.6" transform="rotate(0 887.9 660.3)" fill="url(#spk)"/>
<ellipse cx="893.1" cy="648.6" rx="2" ry="2" transform="rotate(0 893.1 648.6)" fill="url(#spk)"/>
<ellipse cx="900.7" cy="644.4" rx="1.4" ry="1.4" transform="rotate(0 900.7 644.4)" fill="url(#spk)"/>
<ellipse cx="908.8" cy="611.1" rx="2" ry="1.6" transform="rotate(0 908.8 611.1)" fill="url(#spk)"/>
<ellipse cx="898.3" cy="610.5" rx="3" ry="1" transform="rotate(0 898.3 610.5)" fill="url(#spk)"/>
<ellipse cx="931.2" cy="614.5" rx="2" ry="2" transform="rotate(0 931.2 614.5)" fill="url(#spk)"/>
<ellipse cx="960.3" cy="618.6" rx="2.2" ry="2.4" transform="rotate(0 960.3 618.6)" fill="url(#spk)"/>
<ellipse cx="948.6" cy="630.3" rx="1.2" ry="2.2" transform="rotate(0 948.6 630.3)" fill="url(#spk)"/>
<ellipse cx="942.7" cy="635.5" rx="1.6" ry="4" transform="rotate(40 942.7 635.5)" fill="url(#spk)"/>
<ellipse cx="942.7" cy="653.1" rx="2.5" ry="2" transform="rotate(0 942.7 653.1)" fill="url(#spk)"/>
<ellipse cx="938.1" cy="658.1" rx="1.2" ry="1.2" transform="rotate(0 938.1 658.1)" fill="url(#spk)"/>
<ellipse cx="932.6" cy="655.4" rx="1.2" ry="1.2" transform="rotate(0 932.6 655.4)" fill="url(#spk)"/>
<ellipse cx="924.7" cy="655.4" rx="1.2" ry="1.2" transform="rotate(0 924.7 655.4)" fill="url(#spk)"/>
<ellipse cx="914.2" cy="647.9" rx="1" ry="1" transform="rotate(0 914.2 647.9)" fill="url(#spk)"/>
<ellipse cx="860.2" cy="689.3" rx="2" ry="2" transform="rotate(0 860.2 689.3)" fill="url(#spk)"/>
<ellipse cx="868.3" cy="619.9" rx="1.5" ry="1" transform="rotate(30 868.3 619.9)" fill="url(#spk)"/>
<ellipse cx="904.2" cy="621.8" rx="1.4" ry="1" transform="rotate(0 904.2 621.8)" fill="url(#spk)"/>
<ellipse cx="964.2" cy="610.7" rx="1" ry="1" transform="rotate(0 964.2 610.7)" fill="url(#spk)"/>
<ellipse cx="533.5" cy="647.2" rx="3" ry="2" transform="rotate(0 533.5 647.2)" fill="url(#spk)"/>
<ellipse cx="515.2" cy="694.2" rx="2" ry="4" transform="rotate(20 515.2 694.2)" fill="url(#spk)"/>
<ellipse cx="512.0" cy="707.2" rx="1.2" ry="2.2" transform="rotate(0 512.0 707.2)" fill="url(#spk)"/>
<ellipse cx="520.4" cy="683.7" rx="1.5" ry="3" transform="rotate(30 520.4 683.7)" fill="url(#spk)"/>
<ellipse cx="571.3" cy="623.8" rx="2" ry="2" transform="rotate(0 571.3 623.8)" fill="url(#spk)"/>
<ellipse cx="562.2" cy="620.5" rx="1.5" ry="1.5" transform="rotate(0 562.2 620.5)" fill="url(#spk)"/>
<ellipse cx="551.1" cy="609.2" rx="3" ry="1" transform="rotate(0 551.1 609.2)" fill="url(#spk)"/>
<g clip-path="url(#cp29)"><rect x="661.7" y="648.6" width="15.7" height="20.9" fill="#fff" filter="url(#fwhite)"/></g>
<g clip-path="url(#cp30)"><rect x="657.8" y="669.4" width="17.0" height="27.4" fill="#fff" filter="url(#fwhite)"/></g>
<g clip-path="url(#cp31)"><rect x="653.9" y="702.0" width="13.0" height="6.5" fill="#fff" filter="url(#fwhite)"/></g>
<g clip-path="url(#cp32)"><rect x="652.6" y="711.2" width="11.7" height="11.7" fill="#fff" filter="url(#fwhite)"/></g>
<ellipse cx="755.6" cy="632.3" rx="7" ry="1.5" transform="rotate(0 755.6 632.3)" fill="url(#spk)"/>
<ellipse cx="736.7" cy="617.3" rx="3" ry="2.5" transform="rotate(0 736.7 617.3)" fill="url(#spk)"/>
<ellipse cx="742.6" cy="623.8" rx="1.6" ry="2.5" transform="rotate(0 742.6 623.8)" fill="url(#spk)"/>
<ellipse cx="769.3" cy="617.3" rx="2" ry="2" transform="rotate(0 769.3 617.3)" fill="url(#spk)"/>
<ellipse cx="763.5" cy="608.1" rx="1.4" ry="1.4" transform="rotate(0 763.5 608.1)" fill="url(#spk)"/>
<ellipse cx="641.5" cy="681.8" rx="1.2" ry="1.2" transform="rotate(0 641.5 681.8)" fill="url(#spk)"/>
<ellipse cx="637.0" cy="697.5" rx="1.2" ry="1.2" transform="rotate(0 637.0 697.5)" fill="url(#spk)"/>
</svg></body></html>
